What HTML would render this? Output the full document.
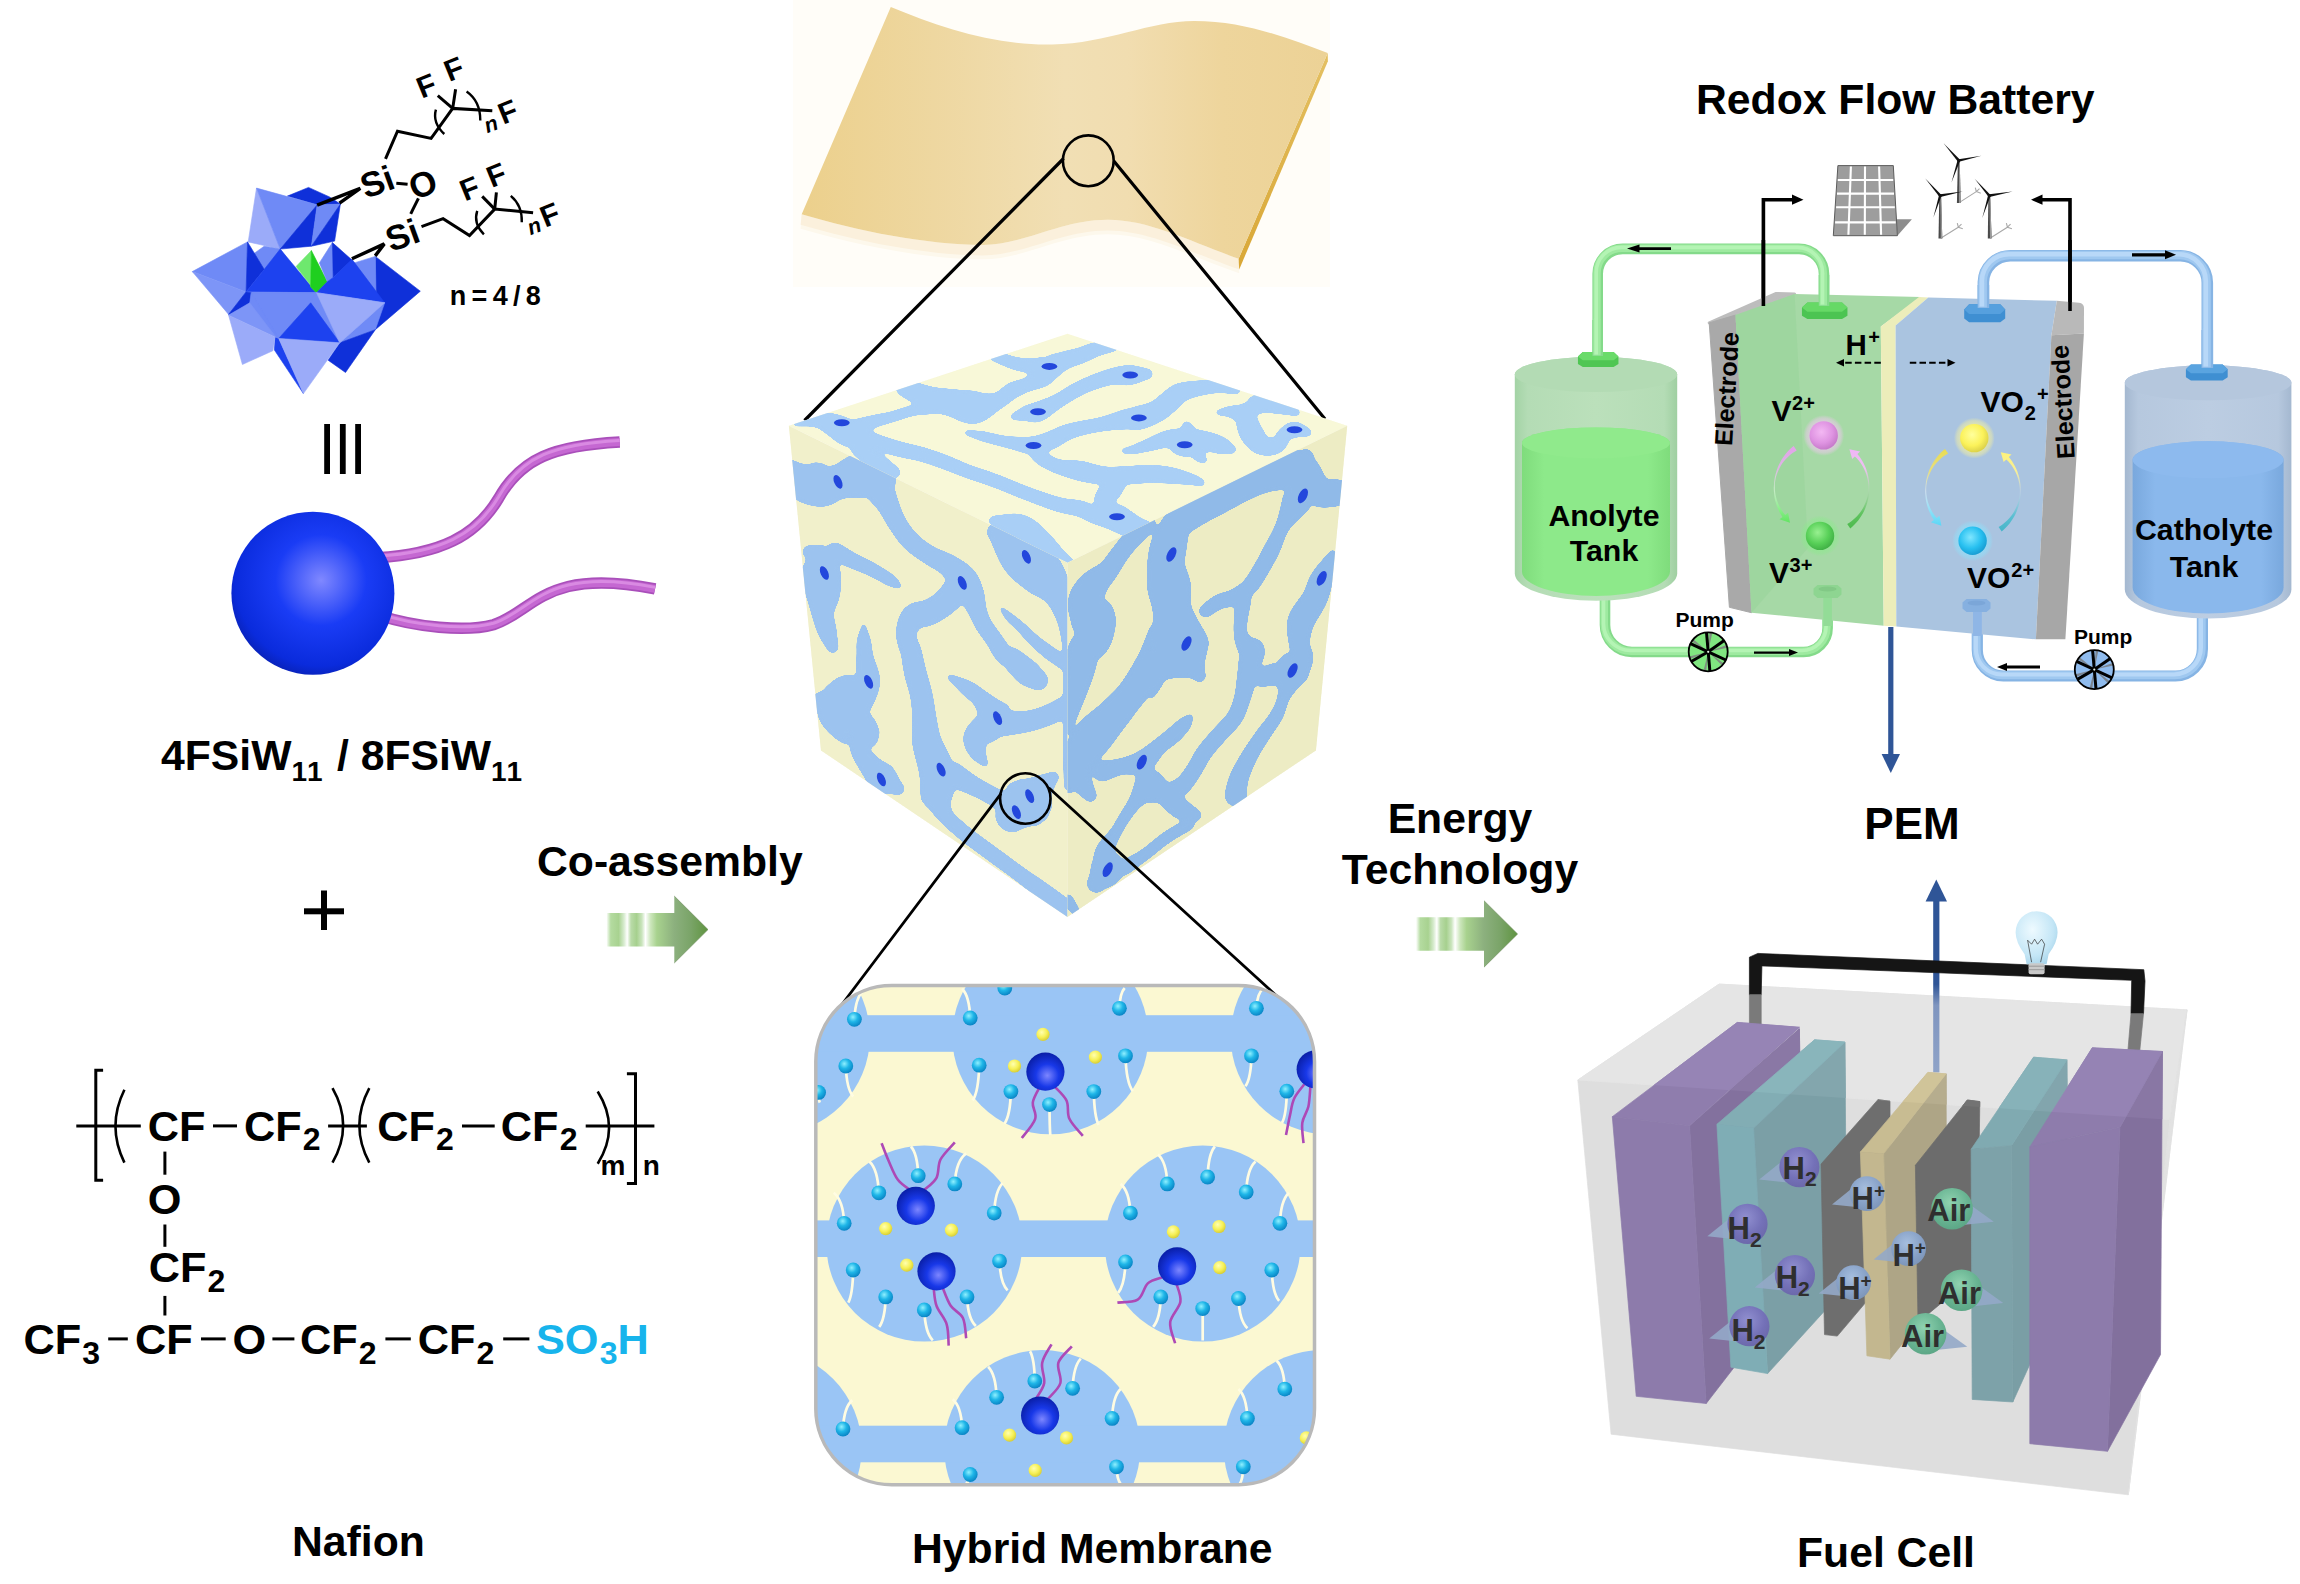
<!DOCTYPE html>
<html lang="en"><head><meta charset="utf-8"><title>Hybrid Membrane</title>
<style>
html,body{margin:0;padding:0;background:#fff;}
body{width:2300px;height:1584px;overflow:hidden;}
svg{display:block;}
text{font-family:"Liberation Sans",Arial,sans-serif;font-weight:bold;}
.lbl{font-size:41px;}
</style></head><body>
<svg width="2300" height="1584" viewBox="0 0 2300 1584">
<defs>
<radialGradient id="gSph" cx="0.55" cy="0.42" r="0.62">
 <stop offset="0" stop-color="#8088ff"/><stop offset="0.45" stop-color="#1a3cf5"/><stop offset="0.85" stop-color="#0a2bdc"/><stop offset="1" stop-color="#0820b0"/>
</radialGradient>
<linearGradient id="gArr" x1="0" x2="1" y1="0" y2="0">
 <stop offset="0" stop-color="#ffffff"/><stop offset="0.043" stop-color="#b4dba0"/><stop offset="0.12" stop-color="#a8d290"/><stop offset="0.174" stop-color="#d8ecd0"/><stop offset="0.205" stop-color="#ffffff"/><stop offset="0.242" stop-color="#b9dba8"/><stop offset="0.298" stop-color="#a6d08e"/><stop offset="0.348" stop-color="#c9e4bc"/><stop offset="0.385" stop-color="#ffffff"/><stop offset="0.435" stop-color="#cce6bc"/><stop offset="0.497" stop-color="#a8d28e"/><stop offset="0.668" stop-color="#8cb07e"/><stop offset="0.83" stop-color="#7aa468"/><stop offset="1" stop-color="#5f9440"/>
</linearGradient>
</defs>
<rect x="0" y="0" width="2300" height="1584" fill="#ffffff"/>

<g id="labels" font-size="42.7">
<text x="1696" y="114">Redox Flow Battery</text>
<text x="161" y="770">4FSiW<tspan font-size="28" dy="11" letter-spacing="1.5">11</tspan><tspan dy="-11" dx="1"> / 8FSiW</tspan><tspan font-size="28" dy="11" letter-spacing="1.5">11</tspan></text>
<text x="537" y="875.5">Co-assembly</text>
<text x="1460" y="833" text-anchor="middle">Energy</text>
<text x="1460" y="884" text-anchor="middle">Technology</text>
<text x="1912" y="838.5" text-anchor="middle" font-size="44">PEM</text>
<text x="292" y="1556">Nafion</text>
<text x="912" y="1563">Hybrid Membrane</text>
<text x="1797" y="1567">Fuel Cell</text>
</g>
<g id="plus" fill="#000">
<rect x="304" y="908.3" width="40" height="6"/><rect x="321" y="890.5" width="6" height="39.5"/>
</g>
<g id="bars" fill="#000">
<rect x="324.2" y="424" width="5.8" height="50"/><rect x="339.9" y="424" width="5.8" height="50"/><rect x="355.2" y="424" width="5.8" height="50"/>
</g>
<g id="arrows">
<path d="M606.4 913.1 H674.3 V896.1 L708 929.6 L674.3 963 V946.6 H606.4 Z" fill="url(#gArr)"/><path d="M674.3 896.1 L708 929.6 L674.3 963" fill="none" stroke="#6d8a5c" stroke-width="0.6"/>
<path d="M1416 917.2 H1484 V900.7 L1517.6 934 L1484 967.2 V950.7 H1416 Z" fill="url(#gArr)"/><path d="M1484 900.7 L1517.6 934 L1484 967.2" fill="none" stroke="#6d8a5c" stroke-width="0.6"/>
</g>

<g id="nafion" font-size="43.3" stroke-linecap="butt">
<line x1="76.3" y1="1125.9" x2="140.8" y2="1125.9" stroke="#000" stroke-width="3"/>
<text x="147.7" y="1140.6">CF</text>
<line x1="213.0" y1="1125.9" x2="237.0" y2="1125.9" stroke="#000" stroke-width="3"/>
<text x="243.9" y="1140.6">CF<tspan font-size="32" dy="9.8" dx="1.2">2</tspan></text>
<line x1="328.1" y1="1125.9" x2="366.9" y2="1125.9" stroke="#000" stroke-width="3"/>
<text x="377.2" y="1140.6">CF<tspan font-size="32" dy="9.8" dx="1.2">2</tspan></text>
<line x1="462.0" y1="1125.9" x2="494.7" y2="1125.9" stroke="#000" stroke-width="3"/>
<text x="500.8" y="1140.6">CF<tspan font-size="32" dy="9.8" dx="1.2">2</tspan></text>
<line x1="585.7" y1="1125.9" x2="654.4" y2="1125.9" stroke="#000" stroke-width="3"/>
<path d="M103.1 1070.2 H95.8 V1180.2 H103.1" fill="none" stroke="#000" stroke-width="3"/>
<path d="M626.9 1073.7 H635.5 V1183.6 H626.9" fill="none" stroke="#000" stroke-width="3"/>
<path d="M124.4 1089.8 Q106.5 1126.2 124.4 1162.6" fill="none" stroke="#000" stroke-width="2.6"/>
<path d="M332.5 1088.1 Q353.8 1125.4 332.5 1162.6" fill="none" stroke="#000" stroke-width="2.6"/>
<path d="M369.3 1088.1 Q349.4 1125.4 369.3 1162.6" fill="none" stroke="#000" stroke-width="2.6"/>
<path d="M597.7 1091.5 Q620.4 1127.6 597.7 1163.7" fill="none" stroke="#000" stroke-width="2.6"/>
<text x="600.5" y="1174.7" font-size="28">m</text>
<text x="642.7" y="1174.7" font-size="28">n</text>
<line x1="164.9" y1="1151.6" x2="164.9" y2="1174.7" stroke="#000" stroke-width="3"/>
<text x="147.7" y="1213.5">O</text>
<line x1="164.9" y1="1224.5" x2="164.9" y2="1246.8" stroke="#000" stroke-width="3"/>
<text x="148.7" y="1282.2">CF<tspan font-size="32" dy="9.8" dx="1.2">2</tspan></text>
<line x1="164.9" y1="1295.9" x2="164.9" y2="1315.5" stroke="#000" stroke-width="3"/>
<text x="23.4" y="1354.3">CF<tspan font-size="32" dy="9.8" dx="1.2">3</tspan></text>
<line x1="108.2" y1="1338.9" x2="127.8" y2="1338.9" stroke="#000" stroke-width="3"/>
<text x="135.0" y="1354.3">CF</text>
<line x1="201.0" y1="1338.9" x2="225.7" y2="1338.9" stroke="#000" stroke-width="3"/>
<text x="232.6" y="1354.3">O</text>
<line x1="272.4" y1="1338.9" x2="294.4" y2="1338.9" stroke="#000" stroke-width="3"/>
<text x="299.9" y="1354.3">CF<tspan font-size="32" dy="9.8" dx="1.2">2</tspan></text>
<line x1="385.4" y1="1338.9" x2="410.8" y2="1338.9" stroke="#000" stroke-width="3"/>
<text x="417.7" y="1354.3">CF<tspan font-size="32" dy="9.8" dx="1.2">2</tspan></text>
<line x1="503.2" y1="1338.9" x2="529.4" y2="1338.9" stroke="#000" stroke-width="3"/>
<text x="535.9" y="1354.3" fill="#17b4ec">SO<tspan font-size="32" dy="9.8" dx="1.2">3</tspan><tspan dy="-9.8">H</tspan></text>
</g>
<g id="pom">
<polygon fill="#0f30d9" stroke="#0f30d9" stroke-width="0.6" stroke-linejoin="round" points="287.4,196.1 308.5,187.4 329.5,196.9 340.4,204.1 317.2,204.8"/>
<polygon fill="#9babf9" stroke="#9babf9" stroke-width="0.6" stroke-linejoin="round" points="256.5,188.1 248.2,241.9 280.2,249.1"/>
<polygon fill="#6f8af6" stroke="#6f8af6" stroke-width="0.6" stroke-linejoin="round" points="256.5,188.1 317.2,204.8 280.2,249.1"/>
<polygon fill="#0f30d9" stroke="#0f30d9" stroke-width="0.6" stroke-linejoin="round" points="317.2,204.8 280.2,249.1 311.4,246.2"/>
<polygon fill="#6f8af6" stroke="#6f8af6" stroke-width="0.6" stroke-linejoin="round" points="317.2,204.8 340.4,204.1 311.4,246.2"/>
<polygon fill="#0f30d9" stroke="#0f30d9" stroke-width="0.6" stroke-linejoin="round" points="340.4,204.1 334.6,241.1 311.4,246.2"/>
<polygon fill="#6f8af6" stroke="#6f8af6" stroke-width="0.6" stroke-linejoin="round" points="254.0,253.5 264.2,246.2 280.2,249.1 290.3,262.9 264.2,270.2"/>
<polygon fill="#6f8af6" stroke="#6f8af6" stroke-width="0.6" stroke-linejoin="round" points="192.3,271.6 247.5,241.9 246.1,291.9"/>
<polygon fill="#7d95f7" stroke="#7d95f7" stroke-width="0.6" stroke-linejoin="round" points="192.3,271.6 246.1,291.9 228.6,314.4"/>
<polygon fill="#0f30d9" stroke="#0f30d9" stroke-width="0.6" stroke-linejoin="round" points="247.5,241.9 264.2,269.4 246.1,291.9"/>
<polygon fill="#1d42ef" stroke="#1d42ef" stroke-width="0.6" stroke-linejoin="round" points="280.2,249.1 316.5,292.7 246.1,291.9 264.2,269.4"/>
<polygon fill="#6ee86e" stroke="#6ee86e" stroke-width="0.6" stroke-linejoin="round" points="296.1,266.5 311.4,250.6 310.7,286.9 316.5,292.7"/>
<polygon fill="#1fcf1f" stroke="#1fcf1f" stroke-width="0.6" stroke-linejoin="round" points="311.4,250.6 327.3,281.8 316.5,292.7 310.7,286.9"/>
<polygon fill="#6f8af6" stroke="#6f8af6" stroke-width="0.6" stroke-linejoin="round" points="319.4,262.9 332.4,242.6 333.2,277.4 327.3,281.8"/>
<polygon fill="#0f30d9" stroke="#0f30d9" stroke-width="0.6" stroke-linejoin="round" points="332.4,242.6 352.0,260.0 333.2,277.4"/>
<polygon fill="#0f30d9" stroke="#0f30d9" stroke-width="0.6" stroke-linejoin="round" points="375.3,256.4 420.3,291.2 375.3,329.7"/>
<polygon fill="#6f8af6" stroke="#6f8af6" stroke-width="0.6" stroke-linejoin="round" points="354.2,262.9 375.3,256.4 376.0,293.4 368.7,286.1"/>
<polygon fill="#1d42ef" stroke="#1d42ef" stroke-width="0.6" stroke-linejoin="round" points="352.0,259.3 384.7,302.8 316.5,292.7 327.3,281.8 333.2,277.4"/>
<polygon fill="#6f8af6" stroke="#6f8af6" stroke-width="0.6" stroke-linejoin="round" points="384.7,302.8 375.3,329.7 339.7,342.8"/>
<polygon fill="#0f30d9" stroke="#0f30d9" stroke-width="0.6" stroke-linejoin="round" points="339.7,342.8 375.3,329.7 345.5,372.5 328.1,360.2"/>
<polygon fill="#6f8af6" stroke="#6f8af6" stroke-width="0.6" stroke-linejoin="round" points="246.1,291.9 316.5,292.7 384.7,302.8 339.7,342.8 278.7,338.4 228.6,314.4"/>
<polygon fill="#6f8af6" stroke="#6f8af6" stroke-width="0.6" stroke-linejoin="round" points="251.1,292.7 316.5,292.7 278.7,338.4"/>
<polygon fill="#6f8af6" stroke="#6f8af6" stroke-width="0.6" stroke-linejoin="round" points="316.5,292.7 339.7,342.8 310.7,302.8"/>
<polygon fill="#1d42ef" stroke="#1d42ef" stroke-width="0.6" stroke-linejoin="round" points="310.7,302.8 339.7,342.8 278.7,338.4"/>
<polygon fill="#9babf9" stroke="#9babf9" stroke-width="0.6" stroke-linejoin="round" points="316.5,292.7 384.7,302.8 339.7,342.8"/>
<polygon fill="#1d42ef" stroke="#1d42ef" stroke-width="0.6" stroke-linejoin="round" points="275.1,336.9 278.7,338.4 303.4,393.6 274.4,350.0"/>
<polygon fill="#9babf9" stroke="#9babf9" stroke-width="0.6" stroke-linejoin="round" points="278.7,338.4 339.7,342.8 303.4,393.6"/>
<polygon fill="#0f30d9" stroke="#0f30d9" stroke-width="0.6" stroke-linejoin="round" points="246.1,291.9 251.1,292.7 249.7,303.6 228.6,314.4"/>
<polygon fill="#6f8af6" stroke="#6f8af6" stroke-width="0.6" stroke-linejoin="round" points="251.1,292.7 278.7,338.4 275.1,336.9 249.7,303.6"/>
<polygon fill="#7d95f7" stroke="#7d95f7" stroke-width="0.6" stroke-linejoin="round" points="228.6,315.2 249.7,302.8 275.8,336.9"/>
<polygon fill="#9babf9" stroke="#9babf9" stroke-width="0.6" stroke-linejoin="round" points="228.6,315.2 275.1,336.9 272.9,350.7 242.4,364.5"/>
</g>
<g id="silane" stroke="#000" stroke-width="3" fill="none" stroke-linecap="butt" stroke-linejoin="miter">
<path d="M385.5 158.8 L397.5 131.2 L431.1 138.4 L452.7 108.4 L492.3 110.8"/>
<path d="M452.7 108.4 L437.8 95.7"/>
<path d="M452.7 108.4 L455.6 89.2"/>
<path d="M317.1 205.1 L360.3 188.3 L339.5 203.1" stroke-width="3.4"/>
<path d="M396.3 183.2 L407.6 184.2"/>
<path d="M418.4 198.3 L410.7 213.9"/>
<path d="M421.5 226.7 L443.1 218.7 L469.5 235.5 L494.7 209.1 L533.1 212.7"/>
<path d="M494.7 209.1 L482.2 196.4"/>
<path d="M494.7 209.1 L496.4 192.3"/>
<path d="M351.9 258.8 L384.3 243.9 L375.2 255.9" stroke-width="3.4"/>
<path d="M435.9 109.6 Q432.3 122.8 444.3 134.0" stroke-width="2.4"/>
<path d="M466.6 91.6 Q480.3 101.2 480.3 120.4" stroke-width="2.4"/>
<path d="M477.2 210.8 Q473.1 223.5 483.9 234.3" stroke-width="2.4"/>
<path d="M510.8 195.9 Q522.3 205.5 521.8 222.3" stroke-width="2.4"/>
</g>
<g id="silane-text" font-size="35">
<text transform="translate(377.1 181.5) rotate(-20)" text-anchor="middle" dominant-baseline="central">Si</text>
<text transform="translate(422.7 183.9) rotate(-20)" text-anchor="middle" dominant-baseline="central">O</text>
<text transform="translate(402.3 234.8) rotate(-20)" text-anchor="middle" dominant-baseline="central">Si</text>
<text transform="translate(426.3 85.6) rotate(-22)" text-anchor="middle" dominant-baseline="central" font-size="30">F</text>
<text transform="translate(453.9 68.8) rotate(-22)" text-anchor="middle" dominant-baseline="central" font-size="30">F</text>
<text transform="translate(507.9 111.5) rotate(-22)" text-anchor="middle" dominant-baseline="central" font-size="30">F</text>
<text transform="translate(469.5 188.3) rotate(-22)" text-anchor="middle" dominant-baseline="central" font-size="30">F</text>
<text transform="translate(496.4 174.8) rotate(-22)" text-anchor="middle" dominant-baseline="central" font-size="30">F</text>
<text transform="translate(549.9 214.7) rotate(-22)" text-anchor="middle" dominant-baseline="central" font-size="30">F</text>
<text transform="translate(491.1 124.4) rotate(-20)" text-anchor="middle" dominant-baseline="central" font-size="21.5" font-style="italic" font-weight="normal">n</text>
<text transform="translate(534.3 226.4) rotate(-20)" text-anchor="middle" dominant-baseline="central" font-size="21.5" font-style="italic" font-weight="normal">n</text>
<text x="449.8" y="305.1" font-size="27" textLength="91" lengthAdjust="spacing">n=4/8</text>
</g>
<defs><linearGradient id="gTail" x1="0" y1="0" x2="0" y2="1"><stop offset="0" stop-color="#d98be0"/><stop offset="1" stop-color="#a84cb8"/></linearGradient></defs>
<g id="tails" fill="none" stroke-linecap="butt">
<path d="M377.3 557.8 C440.4 554.0 475.8 536.4 498.5 498.5 521.2 458.1 554.0 445.5 619.7 441.9" stroke="#a94fba" stroke-width="11.5"/>
<path d="M377.3 557.8 C440.4 554.0 475.8 536.4 498.5 498.5 521.2 458.1 554.0 445.5 619.7 441.9" stroke="#c568d2" stroke-width="8"/>
<path d="M377.3 557.8 C440.4 554.0 475.8 536.4 498.5 498.5 521.2 458.1 554.0 445.5 619.7 441.9" stroke="#d98ae2" stroke-width="3" transform="translate(0,-1.5)"/>
<path d="M377.3 614.6 C415.2 627.3 465.7 632.3 493.4 624.7 533.8 612.1 543.9 566.7 655.1 588.9" stroke="#a94fba" stroke-width="11.5"/>
<path d="M377.3 614.6 C415.2 627.3 465.7 632.3 493.4 624.7 533.8 612.1 543.9 566.7 655.1 588.9" stroke="#c568d2" stroke-width="8"/>
<path d="M377.3 614.6 C415.2 627.3 465.7 632.3 493.4 624.7 533.8 612.1 543.9 566.7 655.1 588.9" stroke="#d98ae2" stroke-width="3" transform="translate(0,-1.5)"/>
</g>
<circle cx="312.9" cy="593.2" r="81.5" fill="url(#gSph)"/>
<g id="sheet">
<defs><linearGradient id="gSheet" x1="0" x2="1" y1="0" y2="0"><stop offset="0" stop-color="#ecd08c"/><stop offset="0.25" stop-color="#eed7a0"/><stop offset="0.5" stop-color="#f1dfb4"/><stop offset="0.62" stop-color="#f1ddb0"/><stop offset="0.8" stop-color="#eed59c"/><stop offset="1" stop-color="#ecd296"/></linearGradient><linearGradient id="gSide" x1="0" x2="0" y1="0" y2="1"><stop offset="0" stop-color="#e4c062"/><stop offset="1" stop-color="#d9a736"/></linearGradient></defs>
<rect x="793" y="0" width="537" height="287" fill="#fffdf8"/>
<path d="M801.7 214.3 C857.4 231.0 927.0 244.9 982.6 244.9 C1024.3 244.9 1060.5 219.8 1107.8 219.8 C1149.6 219.8 1191.3 242.1 1238.6 258.8 L1239.2 273.3 C1191.3 256.6 1149.6 234.3 1107.8 234.3 C1060.5 234.3 1024.3 259.3 982.6 259.3 C927.0 259.3 857.4 245.4 800.6 228.7 Z" fill="#fdf8ec"/>
<path d="M801.7 214.3 C857.4 231.0 927.0 244.9 982.6 244.9 C1024.3 244.9 1060.5 219.8 1107.8 219.8 C1149.6 219.8 1191.3 242.1 1238.6 258.8 L1239.2 269.4 C1191.3 252.7 1149.6 230.4 1107.8 230.4 C1060.5 230.4 1024.3 255.4 982.6 255.4 C927.0 255.4 857.4 241.5 800.6 224.8 Z" fill="#fbf0dc"/>
<polygon points="1327.7,52.9 1327.9,61.2 1239.2,269.4 1238.6,258.8" fill="url(#gSide)"/>
<path d="M890.8 7.0 C940.9 27.8 996.5 45.9 1052.2 44.5 C1107.8 43.1 1149.6 20.9 1194.1 20.9 C1247.0 20.9 1288.7 39.0 1327.7 52.9 L1238.6 258.8 C1191.3 242.1 1149.6 219.8 1107.8 219.8 C1060.5 219.8 1024.3 244.9 982.6 244.9 C927.0 244.9 857.4 231.0 801.7 214.3 Z" fill="url(#gSheet)"/>
<circle cx="1088.3" cy="160.8" r="25.4" fill="none" stroke="#000" stroke-width="2.6"/>
<path d="M1063.6 158.5 L804.5 420.5 M1113.8 161 L1325 419" stroke="#000" stroke-width="3.2" fill="none"/>
</g>
<g id="cube">
<defs><clipPath id="cT"><polygon points="1067.5,333.7 1347.3,425.7 1067.5,562.7 788.8,425.7"/></clipPath><clipPath id="cL"><polygon points="788.8,425.7 1067.5,562.7 1067.5,916.9 820.9,750.5"/></clipPath><clipPath id="cR"><polygon points="1067.5,562.7 1347.3,425.7 1316.0,750.5 1067.5,916.9"/></clipPath><filter id="goo" x="-5%" y="-5%" width="110%" height="110%" color-interpolation-filters="sRGB"><feGaussianBlur in="SourceGraphic" stdDeviation="2.2"/><feColorMatrix type="matrix" values="1 0 0 0 0  0 1 0 0 0  0 0 1 0 0  0 0 0 24 -11.5"/></filter></defs>
<g clip-path="url(#cT)">
<polygon points="1067.5,333.7 1347.3,425.7 1067.5,562.7 788.8,425.7" fill="#f8f8d8" stroke="#f8f8d8" stroke-width="0.8"/>
<g fill="#a9cff6" filter="url(#goo)" fill-rule="nonzero">
<path d="M794.5 426.5L796.5 426.5L799.4 426.5L802.7 426.4L806.3 426.4L809.9 426.6L813.0 426.9L815.5 427.4L818.2 428.4L820.2 429.6L822.1 431.0L824.1 432.6L826.5 434.3L828.5 435.8L830.8 437.6L833.4 439.7L836.3 441.8L839.5 443.9L842.8 445.6L846.5 447.0L850.1 448.0L853.6 448.7L857.0 449.2L860.4 449.7L864.2 450.0L867.3 449.9L870.1 449.8L873.7 450.1L876.3 450.7L879.3 451.5L882.5 452.5L886.0 453.5L889.6 454.6L893.1 455.6L896.6 456.5L900.1 457.3L903.5 458.0L906.8 458.7L910.0 459.3L913.2 459.9L916.3 460.6L919.4 461.4L922.5 462.3L925.6 463.2L928.8 464.3L931.9 465.3L935.1 466.5L938.3 467.6L941.5 468.8L944.2 469.7L946.9 470.7L949.5 471.7L952.2 472.8L955.0 473.9L958.0 475.0L961.1 476.2L964.4 477.4L967.2 478.4L970.1 479.4L973.1 480.5L976.2 481.5L979.3 482.6L982.4 483.6L985.5 484.7L988.6 485.8L991.7 486.9L994.7 488.0L997.6 489.1L1000.6 490.3L1003.6 491.5L1006.6 492.7L1009.6 494.0L1012.7 495.2L1015.7 496.5L1018.8 497.7L1021.9 498.9L1025.0 500.1L1028.1 501.3L1031.2 502.5L1034.3 503.7L1037.5 504.9L1040.7 506.1L1043.8 507.3L1046.9 508.4L1049.9 509.4L1052.9 510.4L1055.8 511.4L1059.7 512.5L1063.5 513.4L1067.0 514.2L1070.2 514.8L1073.1 515.5L1075.7 516.1L1077.8 516.8L1080.5 517.8L1082.8 519.0L1085.5 520.4L1088.9 522.1L1092.9 523.8L1096.5 525.1L1100.1 526.3L1103.8 527.6L1107.5 528.9L1110.8 530.0L1113.4 531.0L1115.3 531.6L1122.4 530.6L1128.0 526.2L1130.7 519.6L1129.7 512.5L1125.3 506.8L1118.7 504.1L1116.5 504.3L1113.6 504.6L1110.2 505.0L1106.7 505.4L1103.2 505.7L1100.0 505.9L1097.7 505.9L1095.0 505.5L1092.7 504.8L1090.0 503.5L1086.6 502.1L1082.5 500.8L1079.1 500.1L1075.9 499.6L1072.7 499.3L1069.6 498.9L1066.4 498.5L1063.1 497.9L1059.7 497.1L1057.2 496.4L1054.4 495.6L1051.5 494.7L1048.5 493.8L1045.5 492.7L1042.3 491.6L1039.2 490.5L1036.0 489.4L1032.9 488.3L1029.9 487.2L1026.9 486.0L1023.9 484.9L1020.9 483.7L1017.9 482.4L1014.9 481.2L1011.9 479.9L1008.8 478.7L1005.7 477.4L1002.7 476.2L999.6 475.0L996.4 473.9L993.2 472.7L990.1 471.6L986.9 470.6L983.7 469.5L980.6 468.4L977.6 467.4L974.7 466.4L971.9 465.4L969.2 464.4L966.1 463.2L963.2 462.0L960.4 460.8L957.7 459.6L955.0 458.4L952.3 457.2L949.5 456.0L946.7 454.9L943.4 453.7L940.1 452.5L936.8 451.3L933.4 450.2L930.1 449.2L926.7 448.1L923.4 447.1L919.9 446.2L916.5 445.3L913.2 444.5L910.0 443.7L906.8 443.0L903.7 442.2L900.6 441.3L897.5 440.4L894.1 439.4L890.7 438.3L887.3 437.3L884.0 436.2L880.9 435.1L878.1 434.1L874.3 432.6L871.4 431.2L869.4 430.0L867.2 428.5L865.0 427.1L862.6 425.4L860.1 423.7L857.3 422.0L854.5 420.5L852.0 419.4L849.0 418.2L845.7 416.9L842.0 415.6L838.2 414.5L834.4 413.6L830.5 413.1L826.9 412.9L823.1 413.1L819.2 413.6L815.2 414.4L811.8 415.4L808.3 416.7L804.7 418.1L801.3 419.6L798.2 420.9L795.6 422.1L793.7 422.9L792.9 423.3L792.3 424.1L792.3 425.1L792.7 425.9L793.5 426.5ZM853.3 454.4L854.9 455.9L857.0 457.9L859.6 460.3L862.4 462.8L865.3 465.4L868.3 467.8L871.2 469.7L874.1 471.4L877.3 472.9L880.6 474.3L883.7 475.5L886.6 476.5L889.1 477.3L890.8 478.0L894.1 478.9L897.3 478.0L899.7 475.7L900.6 472.4L899.7 469.2L897.3 466.8L895.9 465.6L893.9 463.9L891.6 461.9L889.0 459.8L886.2 457.6L883.4 455.6L880.7 453.9L877.7 452.4L874.3 450.8L870.7 449.4L867.2 448.0L863.9 446.8L861.1 445.8L859.1 445.0L856.4 444.2L853.6 444.8L851.5 446.8L850.7 449.5L851.3 452.3ZM1110.0 529.8L1111.8 530.7L1114.4 532.0L1117.7 533.6L1121.3 535.3L1125.2 536.9L1129.3 538.2L1134.0 539.0L1138.4 539.1L1142.3 538.8L1145.3 538.4L1147.4 538.2L1151.6 537.8L1155.1 535.2L1156.9 531.3L1156.4 527.0L1153.8 523.5L1149.9 521.8L1147.9 520.9L1145.1 519.8L1142.3 518.4L1139.7 517.0L1137.7 515.7L1136.1 514.5L1133.6 512.8L1130.9 510.9L1128.2 508.9L1125.8 507.2L1124.0 505.9L1117.0 504.0L1110.1 505.8L1105.0 510.9L1103.1 517.8L1104.9 524.7ZM860.4 434.8L862.4 434.0L865.1 432.7L868.3 431.2L871.6 429.7L874.9 428.3L877.7 427.1L880.6 426.1L883.2 425.2L885.9 424.4L889.0 423.5L892.6 422.5L895.5 421.5L898.7 420.5L902.0 419.4L905.3 418.3L908.6 417.3L911.9 416.4L914.9 415.7L918.0 415.2L921.2 414.9L924.5 414.7L927.9 414.5L931.3 414.3L934.7 414.0L938.1 413.5L942.5 412.7L946.7 411.8L950.5 410.8L953.4 410.1L955.5 409.6L959.2 406.6L960.9 402.1L960.1 397.4L957.1 393.7L952.6 392.0L947.9 392.8L946.0 394.1L943.6 395.8L940.9 397.8L938.0 399.6L934.9 401.0L932.7 401.7L929.9 402.2L926.7 402.7L923.4 403.1L919.8 403.6L916.2 404.2L912.6 404.9L909.1 405.8L905.5 406.8L902.0 407.9L898.6 409.0L895.3 410.1L892.3 411.0L889.6 411.8L886.2 412.6L883.3 413.1L880.5 413.5L877.5 414.0L874.1 414.7L870.8 415.4L867.2 416.3L863.5 417.1L860.0 417.9L857.1 418.6L855.0 419.1L851.5 421.5L849.6 425.4L849.9 429.7L852.2 433.2L856.1 435.1ZM900.9 396.0L902.6 397.0L904.9 398.4L907.8 400.2L911.0 402.1L914.5 404.2L918.1 406.2L921.7 408.0L925.3 409.6L929.1 411.1L932.9 412.2L936.5 413.2L939.9 414.0L943.1 414.7L946.1 415.5L948.9 416.3L951.5 417.4L954.3 418.7L957.4 420.3L961.0 421.8L965.1 423.1L969.8 423.9L974.8 423.9L979.7 422.9L984.0 421.1L987.9 418.8L991.5 416.3L994.8 413.7L997.8 411.3L1000.9 409.1L1004.3 406.8L1007.5 404.4L1010.3 402.2L1012.7 400.4L1014.6 399.0L1016.3 397.9L1018.6 396.5L1021.1 395.2L1023.9 393.9L1027.0 392.6L1030.3 391.3L1033.7 390.2L1037.3 389.2L1041.1 388.2L1044.9 386.9L1049.2 384.7L1054.1 380.8L1056.7 378.1L1058.1 376.9L1058.7 376.2L1060.7 374.5L1063.1 372.5L1065.8 370.5L1068.3 368.9L1070.8 367.7L1073.4 366.8L1076.3 365.8L1079.5 364.8L1082.9 363.6L1086.2 362.1L1089.3 360.7L1092.1 359.2L1094.7 358.0L1097.4 356.8L1100.1 355.8L1103.3 354.8L1106.7 353.7L1110.0 352.8L1112.8 352.0L1114.8 351.4L1117.4 350.1L1119.0 347.7L1119.2 344.9L1118.0 342.3L1115.6 340.7L1112.8 340.5L1110.7 340.6L1107.8 340.8L1104.3 341.1L1100.5 341.5L1096.8 342.0L1093.2 342.6L1089.4 343.6L1085.9 344.8L1082.8 346.0L1080.0 347.1L1077.4 347.9L1074.7 348.6L1071.9 349.2L1068.7 349.9L1065.2 350.7L1061.7 351.7L1058.0 352.7L1054.2 353.6L1050.4 354.7L1046.6 356.2L1042.2 358.8L1038.1 363.6L1036.7 367.2L1035.9 369.3L1035.2 370.3L1033.1 372.2L1030.4 374.2L1027.4 376.1L1024.5 377.7L1021.8 378.9L1018.9 379.8L1015.6 380.6L1012.0 381.7L1008.2 383.3L1005.0 385.4L1002.3 387.6L1000.1 389.6L997.9 391.3L995.8 392.6L993.4 393.3L990.7 393.5L987.5 393.4L984.3 393.0L981.1 392.5L978.2 391.8L975.8 391.1L973.9 390.6L972.5 390.4L970.7 390.4L968.3 390.3L965.4 390.2L962.1 390.0L958.4 389.6L954.5 389.2L950.8 388.8L947.3 388.5L944.1 388.2L941.1 387.9L938.2 387.6L935.4 387.2L932.6 386.7L930.0 386.1L926.8 385.3L923.3 384.2L919.8 383.0L916.4 381.9L913.3 380.8L910.6 379.9L908.5 379.2L903.8 378.4L899.3 380.0L896.3 383.7L895.5 388.5L897.2 392.9ZM972.4 417.8L975.0 418.8L977.6 419.8L980.0 421.5L982.8 421.8L985.4 420.7L987.1 418.4L987.5 415.5L986.3 412.9L985.9 410.1L985.4 407.4L982.0 404.8L977.7 404.4L973.7 406.1L971.2 409.5L970.7 413.8ZM992.1 360.9L994.0 361.8L996.8 363.0L1000.1 364.5L1003.6 366.1L1007.2 367.5L1010.4 368.8L1013.9 369.9L1017.1 370.8L1020.3 371.6L1023.4 372.3L1026.6 373.0L1030.1 373.6L1033.8 374.3L1037.4 374.8L1040.3 375.3L1042.3 375.6L1046.9 374.5L1050.4 371.2L1051.8 366.7L1050.7 362.0L1047.5 358.5L1042.9 357.1L1040.8 357.3L1037.9 357.6L1034.6 358.0L1031.3 358.2L1028.3 358.3L1025.5 358.1L1022.7 357.9L1020.0 357.5L1017.1 357.0L1014.1 356.4L1011.3 355.6L1007.9 354.6L1004.4 353.4L1001.1 352.3L998.2 351.3L996.1 350.6L993.3 350.3L990.6 351.4L988.9 353.7L988.6 356.6L989.8 359.2ZM1014.7 420.2L1017.4 420.5L1021.4 420.8L1025.6 421.2L1028.7 421.6L1031.4 422.3L1035.6 422.8L1041.3 421.5L1044.7 419.8L1047.6 418.0L1050.5 415.9L1053.4 413.6L1056.2 411.4L1058.9 409.4L1061.5 407.6L1064.8 405.4L1067.8 403.5L1070.7 401.7L1073.5 400.1L1076.2 398.5L1079.0 397.0L1081.7 395.5L1084.4 394.1L1087.2 392.7L1090.5 391.4L1093.3 390.4L1096.4 389.3L1099.7 388.2L1103.0 387.2L1106.3 386.3L1109.4 385.6L1112.2 385.1L1115.3 384.8L1118.3 384.9L1121.3 385.1L1124.4 385.4L1127.7 385.4L1130.9 385.1L1134.7 384.3L1138.6 383.0L1142.4 381.6L1145.6 380.3L1147.9 379.5L1150.6 378.6L1152.5 376.4L1153.1 373.6L1152.2 370.9L1150.1 369.0L1147.3 368.4L1144.9 367.8L1141.6 366.9L1137.6 365.9L1133.4 365.2L1129.4 364.9L1126.4 365.0L1123.3 365.4L1119.9 366.0L1116.3 366.8L1112.6 367.8L1108.7 368.8L1105.2 369.9L1101.6 371.1L1098.1 372.4L1094.5 373.8L1091.1 375.1L1087.9 376.4L1084.9 377.7L1081.2 379.3L1077.9 380.9L1074.8 382.5L1071.9 384.1L1068.9 385.7L1065.9 387.5L1063.0 389.4L1060.2 391.3L1057.3 393.1L1054.0 394.8L1051.3 396.1L1048.2 397.4L1044.9 398.6L1041.7 399.8L1038.7 400.9L1036.1 401.7L1034.8 402.2L1032.3 403.1L1030.3 403.7L1026.1 405.1L1022.2 407.1L1018.5 409.4L1015.2 411.6L1012.9 413.1L1011.2 414.0L1010.2 415.7L1010.2 417.6L1011.1 419.2L1012.8 420.2ZM966.2 435.4L968.2 436.2L971.0 437.3L974.3 438.6L977.7 439.9L980.8 441.0L983.7 441.9L986.7 442.8L989.7 443.6L992.8 444.4L995.9 445.3L998.8 446.0L1001.7 446.8L1004.6 447.6L1007.8 448.4L1011.2 449.3L1013.9 450.0L1016.8 451.0L1020.0 452.0L1023.3 453.0L1026.8 453.8L1030.4 454.5L1034.2 454.7L1038.8 454.3L1043.2 453.3L1047.0 452.0L1050.4 450.6L1053.7 449.1L1057.2 447.4L1060.6 445.5L1063.5 443.7L1066.1 442.0L1068.5 440.7L1070.9 439.6L1073.3 438.5L1075.8 437.6L1078.6 436.6L1081.9 435.7L1084.6 435.0L1087.5 434.3L1090.7 433.6L1094.1 432.9L1097.5 432.3L1100.9 431.7L1104.3 431.2L1107.7 430.8L1111.3 430.4L1114.8 430.1L1118.3 429.8L1121.6 429.7L1124.6 429.5L1127.1 429.5L1130.5 429.6L1133.4 430.0L1137.1 430.2L1141.5 429.6L1144.9 428.7L1148.1 427.6L1151.3 426.3L1154.6 424.9L1157.9 423.3L1161.1 421.6L1164.7 419.5L1167.9 417.2L1170.6 415.1L1172.9 413.1L1175.3 411.1L1178.2 408.3L1180.5 405.7L1182.1 403.9L1183.7 402.5L1185.1 401.5L1187.0 400.4L1189.2 399.3L1192.0 398.3L1195.3 397.3L1197.9 396.6L1200.9 395.8L1204.0 395.2L1207.3 394.5L1210.5 394.0L1213.5 393.6L1216.3 393.3L1219.7 393.2L1223.3 393.3L1227.0 393.5L1230.4 393.9L1233.5 394.2L1235.7 394.4L1238.1 394.2L1240.0 392.8L1241.1 390.7L1240.9 388.3L1239.5 386.3L1237.3 385.3L1235.3 384.7L1232.4 383.9L1228.9 382.8L1225.0 381.8L1220.8 380.9L1216.7 380.4L1213.1 380.1L1209.5 380.0L1205.9 380.1L1202.2 380.2L1198.7 380.4L1195.4 380.6L1192.3 380.9L1188.4 381.3L1184.7 381.7L1181.0 382.4L1177.4 383.3L1173.6 384.8L1169.3 387.3L1165.8 390.1L1163.2 392.4L1160.8 394.3L1158.6 396.1L1156.4 397.9L1154.5 399.6L1152.7 400.9L1150.7 402.0L1148.8 402.8L1146.3 403.6L1143.7 404.3L1141.0 405.0L1138.4 405.6L1136.3 406.1L1134.0 406.8L1131.9 407.4L1128.5 408.2L1124.1 409.3L1121.1 410.3L1118.0 411.3L1114.7 412.4L1111.4 413.6L1108.0 414.7L1104.7 415.8L1101.4 416.7L1098.2 417.5L1094.8 418.2L1091.4 418.9L1088.0 419.5L1084.6 420.1L1081.4 420.7L1078.4 421.3L1074.8 422.1L1071.6 422.8L1068.5 423.5L1065.4 424.3L1062.1 425.4L1058.5 426.8L1055.2 428.3L1052.1 429.7L1049.3 431.0L1046.6 432.1L1043.6 433.2L1040.6 434.2L1037.9 435.1L1035.5 435.7L1032.8 436.2L1030.9 436.5L1028.4 436.7L1025.5 436.8L1022.4 436.8L1019.3 436.8L1016.2 436.6L1013.3 436.5L1009.9 436.2L1006.9 435.9L1004.1 435.5L1001.3 435.0L998.4 434.4L995.4 433.8L992.4 433.1L989.4 432.4L986.3 431.7L983.1 431.1L979.7 430.7L976.1 430.5L972.6 430.3L969.5 430.1L967.4 430.0L966.0 430.1L964.8 430.9L964.1 432.1L964.2 433.6L965.0 434.8ZM1029.4 456.0L1031.1 458.1L1034.1 461.3L1038.1 464.7L1041.2 466.6L1044.2 468.3L1047.6 470.0L1051.4 471.7L1055.4 473.4L1058.6 474.6L1061.9 475.8L1065.2 477.0L1068.6 478.1L1071.9 479.1L1075.1 480.1L1078.1 480.9L1081.2 481.6L1084.3 482.2L1087.6 482.8L1091.1 483.4L1094.6 483.9L1098.3 484.3L1101.9 484.6L1105.6 484.9L1109.2 485.0L1112.7 485.0L1116.1 485.0L1119.4 484.9L1122.7 484.8L1126.0 484.7L1129.4 484.5L1132.9 484.3L1136.2 484.0L1139.4 483.7L1142.5 483.5L1145.5 483.3L1148.4 483.2L1151.4 483.1L1154.5 483.2L1157.6 483.2L1160.6 483.3L1163.7 483.4L1166.8 483.6L1169.9 483.7L1173.1 483.9L1176.6 484.1L1180.2 484.4L1183.7 484.6L1187.0 484.9L1190.0 485.2L1192.3 485.3L1197.7 485.9L1200.2 486.1L1202.1 486.4L1203.9 485.7L1205.1 484.2L1205.3 482.3L1204.6 480.5L1203.1 479.3L1200.6 477.4L1195.3 474.7L1192.7 473.7L1189.8 472.6L1186.5 471.4L1183.0 470.2L1179.4 469.1L1175.7 468.1L1172.2 467.2L1168.8 466.6L1165.4 466.0L1162.0 465.6L1158.6 465.2L1155.2 465.0L1151.8 464.8L1148.3 464.7L1144.7 464.7L1141.2 464.9L1137.8 465.2L1134.5 465.5L1131.3 465.8L1128.3 466.1L1125.2 466.2L1122.0 466.3L1118.8 466.5L1115.6 466.6L1112.6 466.7L1109.6 466.7L1106.7 466.5L1103.8 466.3L1101.0 465.8L1098.1 465.1L1095.2 464.3L1092.1 463.4L1088.9 462.5L1085.6 461.6L1082.2 460.9L1078.7 460.5L1075.1 460.3L1071.7 460.2L1068.4 460.1L1065.3 460.0L1062.5 459.7L1060.0 459.3L1056.8 458.4L1053.9 457.1L1051.3 455.6L1048.9 454.1L1047.0 452.9L1044.3 450.6L1042.2 448.3L1040.6 446.4L1037.5 444.2L1033.6 443.9L1030.2 445.6L1028.0 448.8L1027.7 452.6ZM1111.0 475.5L1108.6 477.4L1105.0 480.3L1102.0 483.5L1100.2 485.9L1097.9 489.3L1095.2 494.1L1093.6 501.3L1095.6 508.2L1098.6 512.8L1101.2 516.1L1103.2 518.9L1106.0 524.4L1108.0 528.4L1114.5 531.5L1121.6 530.9L1127.5 526.9L1130.6 520.4L1130.0 513.2L1126.0 507.3L1122.4 506.7L1117.7 504.7L1115.4 502.9L1113.0 500.8L1111.9 499.7L1112.1 501.2L1112.2 503.0L1113.6 502.4L1116.2 500.4L1119.0 497.7L1121.5 493.9L1123.6 490.2L1125.1 487.5L1127.1 483.2L1126.7 478.4L1124.0 474.5L1119.7 472.4L1114.9 472.8ZM1123.9 453.7L1126.2 454.0L1129.8 454.3L1134.1 454.2L1137.1 453.8L1140.2 453.3L1143.4 452.6L1146.7 452.0L1150.3 451.3L1153.7 450.6L1157.2 449.7L1160.6 448.8L1163.9 448.2L1166.7 448.0L1168.6 448.3L1170.3 449.4L1171.7 451.2L1174.1 453.4L1178.1 455.6L1183.2 456.8L1187.2 456.9L1190.6 456.5L1194.1 455.8L1197.4 455.0L1200.5 454.1L1203.3 453.2L1205.8 452.6L1207.6 452.2L1210.6 452.2L1213.2 452.6L1215.8 453.3L1218.6 454.0L1221.4 454.5L1226.9 454.3L1230.4 453.7L1232.8 453.9L1235.0 452.9L1236.3 451.0L1236.5 448.6L1235.5 446.4L1233.5 445.0L1231.1 442.3L1226.8 438.8L1224.7 437.6L1222.1 436.3L1218.8 434.8L1214.8 433.4L1210.3 432.0L1206.8 431.3L1203.3 430.5L1199.9 429.8L1196.5 429.1L1193.2 428.5L1190.2 427.9L1187.7 427.6L1186.2 427.4L1183.8 427.6L1181.2 428.0L1177.4 428.4L1172.5 428.9L1167.4 429.9L1163.1 431.2L1159.2 432.8L1155.6 434.5L1152.2 436.1L1149.1 437.7L1146.3 439.0L1143.1 440.4L1140.0 441.8L1137.1 443.1L1134.5 444.2L1132.2 445.2L1128.7 446.5L1125.6 447.5L1123.4 448.1L1122.1 448.6L1121.1 449.7L1120.9 451.1L1121.4 452.5L1122.5 453.4ZM1193.5 444.8L1194.0 442.4L1194.6 438.7L1195.2 434.7L1195.4 430.0L1193.1 425.1L1190.4 423.0L1188.6 421.4L1186.3 420.8L1184.0 421.6L1182.4 423.3L1181.9 425.7L1182.6 427.9L1181.9 428.8L1180.6 430.0L1179.7 430.9L1178.3 434.0L1176.9 437.2L1175.9 439.4L1175.7 444.2L1178.0 448.4L1182.0 451.0L1186.8 451.1L1191.0 448.9ZM1188.2 454.2L1190.3 456.1L1193.2 458.8L1196.3 461.2L1199.8 462.8L1202.1 463.2L1203.9 463.7L1205.8 463.2L1207.1 461.9L1207.6 460.0L1207.2 458.2L1205.8 456.8L1205.1 455.5L1204.0 453.3L1202.9 450.9L1201.2 447.6L1199.9 445.2L1196.9 442.9L1193.1 442.4L1189.6 443.8L1187.3 446.9L1186.8 450.7ZM1218.3 415.3L1220.9 415.7L1224.5 416.3L1228.1 417.1L1231.1 418.3L1233.6 419.6L1235.6 421.0L1236.3 422.3L1236.5 423.5L1236.0 423.8L1236.3 425.4L1236.9 428.1L1237.8 431.5L1239.1 435.3L1241.0 439.1L1243.3 442.5L1245.9 445.7L1249.0 448.8L1252.9 451.9L1257.6 454.3L1262.7 455.6L1267.5 455.9L1272.1 455.5L1276.5 454.4L1281.3 452.3L1285.7 448.2L1288.0 443.8L1289.2 441.0L1289.9 439.8L1291.9 438.7L1293.8 438.3L1295.4 438.0L1296.8 437.4L1300.1 437.0L1303.6 436.8L1306.2 436.7L1308.6 436.7L1310.7 435.5L1311.9 433.5L1311.9 431.1L1310.7 429.0L1308.6 427.8L1306.5 426.4L1303.2 424.3L1298.9 422.3L1293.7 421.4L1288.1 422.8L1283.5 425.7L1279.5 429.3L1276.5 433.1L1274.5 436.5L1273.3 438.0L1272.9 438.0L1272.5 437.6L1270.7 437.5L1268.6 437.2L1267.0 436.6L1266.3 436.0L1266.1 435.3L1265.5 434.0L1264.4 431.9L1263.1 429.4L1261.7 427.0L1260.8 425.4L1259.8 423.2L1258.4 420.3L1256.7 416.9L1254.5 413.2L1251.0 409.2L1245.9 406.2L1240.6 405.0L1236.3 405.0L1232.3 405.4L1228.0 406.2L1223.7 407.5L1220.1 408.9L1217.7 409.8L1216.4 410.3L1215.5 411.4L1215.3 412.9L1215.8 414.2L1216.9 415.1ZM1246.8 419.6L1248.9 418.7L1251.6 417.4L1254.6 416.0L1257.7 414.7L1260.5 413.7L1262.7 413.1L1264.7 412.9L1267.1 412.8L1269.8 413.0L1272.7 413.4L1275.9 413.8L1279.0 414.2L1282.8 414.6L1286.7 415.0L1290.4 415.5L1293.7 415.9L1296.0 416.2L1297.9 416.1L1299.5 415.1L1300.4 413.4L1300.4 411.5L1299.4 409.9L1297.7 409.0L1295.5 408.2L1292.4 407.1L1288.8 405.8L1284.9 404.5L1281.3 403.4L1278.6 402.4L1275.7 401.4L1272.5 400.3L1269.1 399.3L1265.4 398.6L1261.3 398.4L1257.0 398.9L1252.8 399.9L1248.9 401.2L1245.4 402.4L1242.7 403.4L1240.8 404.1L1237.3 406.6L1235.6 410.5L1236.0 414.8L1238.6 418.3L1242.5 420.0ZM1256.9 409.8L1259.1 409.1L1261.9 408.2L1265.2 407.1L1268.6 406.1L1272.0 405.1L1275.2 404.4L1277.7 404.1L1280.2 404.0L1283.4 404.2L1286.9 404.6L1290.4 405.1L1293.7 405.7L1296.6 406.2L1298.8 406.6L1301.7 406.5L1304.2 405.0L1305.5 402.5L1305.5 399.7L1304.0 397.2L1301.5 395.8L1299.6 395.2L1296.9 394.2L1293.6 392.9L1289.8 391.6L1285.8 390.5L1281.5 389.6L1277.2 389.3L1272.8 389.6L1268.5 390.5L1264.4 391.6L1260.5 392.9L1257.1 394.1L1254.4 395.1L1252.5 395.7L1249.3 397.7L1247.5 401.1L1247.6 404.9L1249.7 408.2L1253.1 409.9ZM993.0 526.3L995.0 527.4L997.7 528.7L1000.7 530.3L1004.0 532.1L1007.2 533.9L1010.2 535.7L1012.7 537.4L1014.5 538.7L1015.9 539.9L1017.5 541.3L1019.3 542.7L1021.4 544.4L1023.6 546.2L1026.0 548.1L1028.6 550.2L1031.3 552.1L1034.3 554.1L1037.3 555.9L1040.4 557.8L1043.5 559.6L1046.5 561.4L1049.4 563.0L1052.1 564.6L1056.1 566.8L1059.5 568.6L1062.3 570.0L1064.2 570.9L1067.8 572.2L1071.5 571.5L1074.4 569.0L1075.7 565.4L1075.0 561.7L1072.5 558.7L1070.9 557.3L1068.8 555.4L1066.3 552.9L1063.4 550.0L1061.7 548.0L1059.7 545.6L1057.6 543.0L1055.3 540.2L1052.8 537.4L1050.3 534.6L1047.8 532.1L1045.8 530.2L1043.7 528.1L1041.5 525.9L1039.0 523.6L1036.1 521.2L1032.9 519.0L1029.3 516.9L1025.2 515.2L1020.8 514.1L1016.2 513.6L1011.8 513.6L1007.5 513.9L1003.5 514.4L1000.0 514.8L997.2 515.2L995.2 515.5L992.3 515.7L989.9 517.2L988.7 519.8L988.8 522.7L990.4 525.1Z"/>
</g>
<ellipse cx="841.8" cy="422.7" rx="7.9" ry="3.5" transform="rotate(0 841.8 422.7)" fill="#2347dc"/>
<ellipse cx="1049.4" cy="366.4" rx="7.9" ry="3.5" transform="rotate(0 1049.4 366.4)" fill="#2347dc"/>
<ellipse cx="1038.0" cy="411.8" rx="7.9" ry="3.5" transform="rotate(0 1038.0 411.8)" fill="#2347dc"/>
<ellipse cx="1033.5" cy="445.5" rx="7.9" ry="3.5" transform="rotate(0 1033.5 445.5)" fill="#2347dc"/>
<ellipse cx="1130.2" cy="375.0" rx="7.9" ry="3.5" transform="rotate(0 1130.2 375.0)" fill="#2347dc"/>
<ellipse cx="1138.9" cy="417.9" rx="7.9" ry="3.5" transform="rotate(0 1138.9 417.9)" fill="#2347dc"/>
<ellipse cx="1184.7" cy="444.8" rx="7.9" ry="3.5" transform="rotate(0 1184.7 444.8)" fill="#2347dc"/>
<ellipse cx="1294.5" cy="429.7" rx="7.9" ry="3.5" transform="rotate(0 1294.5 429.7)" fill="#2347dc"/>
<ellipse cx="1117.0" cy="516.7" rx="7.9" ry="3.5" transform="rotate(0 1117.0 516.7)" fill="#2347dc"/>
</g>
<g clip-path="url(#cL)">
<polygon points="788.8,425.7 1067.5,562.7 1067.5,916.9 820.9,750.5" fill="#f1f0cb" stroke="#f1f0cb" stroke-width="0.8"/>
<g fill="#9cc3ef" filter="url(#goo)" fill-rule="nonzero">
<path d="M783.6 477.4L784.0 479.8L784.7 483.5L786.2 488.3L789.3 493.7L794.0 498.4L799.0 501.4L803.5 503.5L808.1 505.0L812.7 506.1L817.3 506.7L822.3 506.9L827.9 506.1L833.0 504.2L836.7 502.0L839.4 500.2L842.6 498.9L846.0 498.3L849.9 497.9L853.5 497.8L856.9 497.8L859.6 498.1L861.3 498.5L861.2 498.7L861.4 498.4L862.8 497.8L865.1 497.4L868.0 497.1L871.1 497.1L873.6 497.2L882.6 497.6L890.6 493.5L895.5 485.9L896.0 476.9L891.8 468.9L884.3 464.0L882.9 462.9L880.8 461.0L877.4 458.5L872.9 456.1L867.1 454.1L860.3 453.4L854.1 454.3L849.1 456.1L845.0 458.3L841.4 460.6L838.4 462.7L835.8 464.3L833.5 465.3L829.8 465.9L826.6 465.8L824.8 465.0L824.3 464.0L823.5 463.4L822.2 463.1L820.0 462.8L817.6 462.5L815.2 462.2L813.2 462.2L812.4 462.8L810.9 463.7L808.2 464.2L804.7 464.0L801.2 463.3L798.5 462.6L793.8 459.9L788.4 459.9L783.7 462.6L781.0 467.3L781.0 472.7ZM865.2 474.8L867.6 476.0L871.2 477.8L874.8 479.6L877.3 480.9L882.6 482.0L887.7 480.2L891.3 476.2L892.4 470.9L890.7 465.8L886.6 462.2L884.2 460.9L880.6 459.1L877.0 457.3L874.5 456.1L869.2 455.0L864.1 456.7L860.5 460.8L859.4 466.1L861.1 471.2ZM865.2 495.7L866.6 497.3L868.6 499.4L871.0 501.9L873.5 504.7L875.9 507.4L878.0 510.0L879.7 512.5L881.4 515.2L883.1 518.2L884.9 521.3L886.8 524.7L888.9 528.0L890.8 530.8L892.7 533.6L894.7 536.5L896.8 539.5L899.0 542.4L901.4 545.2L904.0 548.0L906.7 550.6L909.6 552.9L912.4 555.1L915.3 557.2L918.2 559.2L921.0 561.1L923.9 563.0L927.0 565.0L930.2 566.9L933.2 568.6L936.0 570.2L938.4 571.7L940.5 573.2L942.0 574.7L943.8 576.7L945.3 578.9L946.6 581.3L947.9 583.6L949.2 586.0L950.6 588.1L952.3 590.5L954.0 592.7L955.8 594.9L957.7 597.3L959.5 599.7L961.2 602.1L963.0 604.8L964.8 607.8L966.7 611.1L968.5 614.3L970.3 617.9L972.0 621.3L973.8 625.0L975.9 628.9L977.8 631.7L979.7 634.5L981.6 637.2L983.6 639.8L985.3 642.3L986.9 644.6L988.5 647.3L990.2 650.3L991.9 653.5L993.9 656.7L996.5 660.3L1000.6 664.1L1003.5 666.2L1005.7 668.3L1006.8 669.7L1008.9 672.2L1011.3 674.9L1013.8 677.8L1016.4 680.5L1019.2 682.9L1023.1 685.4L1026.9 687.1L1030.1 688.2L1032.2 689.0L1037.3 690.7L1042.6 689.7L1046.7 686.2L1048.5 681.1L1047.4 675.7L1043.9 671.6L1042.4 669.9L1040.4 667.6L1038.2 665.1L1035.7 662.6L1033.7 661.0L1031.2 658.9L1028.2 656.7L1025.2 654.4L1022.2 652.2L1018.9 649.9L1014.1 647.6L1011.4 647.0L1009.8 646.4L1008.9 645.6L1007.3 643.6L1005.5 640.9L1003.5 637.9L1001.3 634.8L999.4 632.2L997.4 629.6L995.6 627.1L993.8 624.6L992.3 622.3L991.1 620.2L989.5 617.2L988.4 614.3L987.3 611.1L986.4 607.5L985.8 604.4L985.5 601.0L985.0 597.1L984.3 593.0L983.2 588.8L981.9 584.9L980.5 581.1L978.8 577.3L976.6 573.5L974.0 570.0L971.5 567.4L968.7 565.0L965.6 562.7L962.3 560.5L958.9 558.4L955.2 556.3L951.8 554.4L948.4 552.9L945.1 551.5L942.0 550.3L939.1 549.2L936.4 548.0L934.0 546.7L931.4 545.1L928.8 543.5L926.3 541.7L923.9 539.9L921.6 538.1L919.5 536.3L917.5 534.4L915.7 532.5L913.8 530.3L911.9 528.0L910.1 525.6L908.4 523.1L906.8 520.5L905.3 518.1L903.9 515.3L902.7 512.5L901.5 509.5L900.4 506.4L899.3 503.1L898.1 499.7L896.9 496.1L895.9 492.5L894.8 488.8L893.9 485.4L893.2 482.6L892.7 480.6L887.1 474.8L879.3 472.5L871.4 474.4L865.5 480.1L863.3 487.9ZM951.0 573.3L949.7 575.0L948.1 577.3L946.3 579.9L944.3 582.7L942.3 585.5L940.3 588.2L938.4 590.4L936.9 592.0L934.8 593.9L932.7 595.5L930.4 597.0L928.1 598.3L925.7 599.5L924.0 600.3L922.3 600.9L920.1 601.2L916.4 601.7L911.2 603.3L905.5 606.9L901.6 611.6L899.2 616.3L897.6 621.1L896.5 625.9L895.8 630.9L895.9 636.2L896.7 641.0L897.7 645.0L898.6 648.1L899.6 651.4L900.8 653.2L900.8 653.3L900.9 654.3L901.3 657.0L901.8 660.3L902.3 664.0L902.9 667.8L903.6 671.6L904.3 675.3L905.1 678.9L906.1 682.3L907.1 685.6L908.0 688.8L908.9 691.9L909.7 694.8L910.3 697.7L910.7 700.6L911.1 703.6L911.5 706.7L911.7 709.8L911.9 713.0L912.1 716.3L912.3 719.5L912.3 722.4L912.1 725.4L911.9 728.6L911.7 732.1L911.7 735.8L911.8 739.9L912.2 744.1L912.9 748.1L913.7 752.0L914.7 755.7L915.6 759.3L916.5 762.7L917.3 765.7L917.9 768.2L918.4 770.3L919.1 774.2L919.5 776.7L919.6 778.1L919.8 779.6L919.9 781.0L920.1 783.5L920.1 786.5L920.1 789.5L920.1 791.7L921.2 800.2L926.4 807.1L934.3 810.3L942.8 809.2L949.6 804.0L952.9 796.1L953.5 794.2L954.3 791.3L955.3 787.4L956.1 782.9L956.3 778.0L955.8 772.9L954.8 768.4L953.4 764.3L951.6 760.0L950.4 757.0L949.0 753.9L947.5 750.9L946.0 747.9L944.5 745.0L943.2 742.2L942.0 739.8L941.1 737.7L940.3 735.3L939.5 732.8L938.9 730.0L938.3 727.1L937.7 723.8L937.1 720.4L936.5 716.9L935.9 713.6L935.4 710.4L934.9 707.1L934.4 703.7L933.8 700.3L933.2 696.8L932.5 693.2L931.6 689.6L930.7 686.0L929.8 682.6L928.8 679.3L927.9 676.1L927.1 673.1L926.3 670.1L925.5 667.0L924.7 663.5L923.9 659.9L923.0 656.3L922.3 653.0L921.6 650.1L920.7 646.7L919.0 643.1L918.8 643.1L918.5 641.9L917.5 639.2L916.8 636.6L916.4 634.5L916.6 633.4L917.4 631.9L918.7 630.0L920.2 628.2L921.7 627.1L922.1 627.1L921.4 627.7L922.0 627.6L924.7 627.2L929.1 626.2L933.9 624.5L937.6 622.7L940.7 621.0L944.0 619.1L947.3 616.8L950.8 614.4L954.3 611.6L957.2 609.0L960.1 606.3L962.9 603.5L965.6 600.7L968.2 598.0L970.5 595.6L972.3 593.8L973.6 592.5L976.8 585.5L976.2 577.9L971.8 571.6L964.9 568.3L957.3 568.9ZM999.6 609.0L1000.6 611.0L1002.1 613.8L1004.0 617.0L1006.2 620.1L1008.3 622.4L1010.6 624.6L1013.0 626.8L1015.4 629.0L1017.8 631.4L1019.7 633.5L1021.8 635.8L1023.9 638.2L1026.2 640.7L1028.5 643.3L1030.9 645.7L1033.4 648.1L1035.9 650.4L1038.4 652.6L1040.9 654.8L1043.5 656.9L1046.0 659.0L1048.8 661.0L1051.8 663.1L1054.8 665.1L1057.5 666.9L1059.8 668.4L1061.4 669.4L1064.9 670.6L1068.4 669.9L1071.1 667.5L1072.3 664.1L1071.6 660.5L1069.2 657.8L1067.5 656.7L1065.2 655.2L1062.6 653.4L1059.7 651.5L1056.9 649.5L1054.3 647.7L1051.7 645.9L1049.2 644.1L1046.6 642.3L1044.0 640.5L1041.5 638.6L1039.1 636.7L1036.8 634.7L1034.4 632.6L1032.1 630.4L1029.7 628.1L1027.3 625.9L1024.9 623.8L1022.1 621.4L1019.4 619.3L1016.9 617.3L1014.5 615.5L1012.3 613.8L1009.4 611.8L1006.6 609.8L1004.0 608.0L1002.2 606.7L1001.5 606.2L1000.6 606.2L999.8 606.6L999.3 607.3L999.2 608.2ZM990.0 539.8L990.8 541.6L991.8 544.0L993.0 546.9L994.3 550.1L995.8 553.5L997.3 557.0L999.0 560.6L1000.7 564.0L1002.6 567.1L1004.4 569.9L1006.5 572.6L1008.7 575.1L1011.0 577.5L1013.3 579.7L1015.6 581.8L1017.9 583.7L1020.1 585.5L1022.2 587.1L1024.2 588.6L1026.0 590.0L1028.6 591.9L1031.2 593.5L1033.7 594.9L1036.1 596.1L1038.5 597.3L1040.7 598.5L1042.8 599.8L1044.6 601.1L1046.6 603.0L1048.4 605.2L1050.1 607.6L1051.7 610.3L1053.3 613.2L1054.7 616.2L1056.0 619.2L1057.1 622.2L1058.1 625.1L1058.9 628.1L1059.6 631.0L1060.2 634.1L1060.8 637.2L1061.3 640.5L1061.7 643.0L1062.0 645.2L1062.2 647.2L1062.4 649.3L1062.6 651.9L1062.7 655.2L1062.8 659.6L1062.9 665.2L1062.9 667.3L1062.9 669.6L1062.9 672.1L1063.0 674.8L1063.0 677.6L1063.0 680.5L1063.0 683.6L1063.0 686.7L1063.0 690.0L1062.9 693.3L1062.9 696.7L1062.9 700.1L1062.9 703.5L1062.9 706.9L1062.9 710.4L1062.9 713.8L1062.9 717.1L1062.9 720.5L1062.8 723.7L1062.8 726.9L1062.8 729.9L1062.8 732.9L1062.9 735.7L1062.9 738.4L1062.9 740.9L1062.9 744.9L1063.0 748.8L1063.0 752.6L1063.1 756.3L1063.2 759.9L1063.3 763.3L1063.3 766.7L1063.4 769.8L1063.5 772.8L1063.6 775.6L1063.6 778.2L1063.7 780.5L1063.8 782.7L1063.8 784.6L1063.9 786.3L1064.5 788.9L1066.4 790.8L1069.0 791.6L1071.6 790.9L1073.6 789.1L1074.3 786.5L1074.4 784.8L1074.5 782.9L1074.7 780.8L1074.9 778.4L1075.1 775.8L1075.3 773.0L1075.5 770.1L1075.7 766.9L1075.9 763.6L1076.1 760.1L1076.3 756.5L1076.4 752.8L1076.6 748.9L1076.7 745.0L1076.8 741.0L1076.9 738.4L1076.9 735.8L1076.9 732.9L1077.0 730.0L1077.0 726.9L1077.0 723.7L1077.0 720.5L1077.0 717.2L1077.0 713.8L1077.0 710.4L1077.0 706.9L1077.0 703.5L1077.0 700.1L1076.9 696.7L1076.9 693.3L1076.9 690.0L1076.9 686.7L1076.9 683.6L1076.9 680.5L1076.9 677.5L1076.8 674.7L1076.8 672.1L1076.8 669.6L1076.8 667.2L1076.8 665.1L1076.8 659.5L1076.9 655.1L1076.9 651.7L1077.0 648.9L1077.0 646.5L1077.0 644.2L1077.0 641.8L1076.9 638.9L1076.7 635.4L1076.4 631.9L1076.1 628.5L1075.8 625.1L1075.4 621.6L1075.0 618.2L1074.6 614.7L1074.3 611.2L1074.0 607.6L1073.7 603.9L1073.3 599.9L1072.7 595.9L1071.9 591.6L1070.8 587.3L1069.7 583.5L1068.6 579.8L1067.4 576.1L1066.0 572.5L1064.6 568.9L1063.0 565.5L1061.2 562.3L1059.1 559.1L1057.1 556.4L1054.8 553.7L1052.5 551.1L1050.1 548.7L1047.7 546.3L1045.3 544.1L1042.8 542.0L1040.3 540.1L1037.8 538.4L1035.3 536.7L1032.4 535.1L1029.1 533.5L1025.6 532.0L1022.0 530.6L1018.4 529.3L1014.8 528.1L1011.5 527.0L1008.6 526.0L1006.1 525.2L1004.3 524.5L999.5 521.9L994.1 522.1L989.5 525.0L986.9 529.8L987.1 535.2ZM806.3 558.1L805.2 561.9L803.1 566.2L801.4 566.0L801.5 568.6L801.9 571.4L802.2 574.3L802.6 577.0L802.8 578.5L803.1 580.6L803.4 583.1L803.8 585.8L804.3 588.8L804.8 591.8L805.5 594.6L806.3 597.5L807.3 600.5L808.3 603.8L809.4 607.4L810.5 611.3L811.6 615.2L812.7 619.0L813.8 622.6L814.9 626.0L816.0 629.2L817.1 632.1L818.3 635.0L820.0 638.4L822.1 641.8L824.1 645.0L825.8 647.5L827.0 649.4L828.8 651.9L831.7 653.3L834.8 653.0L837.4 651.2L838.7 648.3L838.5 645.2L838.2 643.0L837.8 639.9L837.4 636.4L837.0 632.8L836.6 629.3L836.1 626.4L835.4 623.5L834.8 620.6L834.2 617.8L834.0 615.1L834.1 612.6L834.8 610.2L835.8 607.7L837.1 604.8L838.4 601.5L839.5 597.8L840.3 593.9L840.7 590.7L841.1 587.5L841.3 584.2L841.4 580.7L841.3 577.0L840.9 573.2L840.1 569.1L838.6 564.2L836.7 559.5L834.4 555.3L831.8 551.7L827.5 546.5L818.6 544.2L812.2 545.5L808.6 544.9L805.2 546.1L802.9 548.9L802.3 552.4L803.5 555.8ZM830.7 560.4L832.7 561.2L835.5 562.3L838.9 563.6L842.6 565.1L846.3 566.6L849.8 568.0L852.7 569.2L855.7 570.3L858.6 571.5L861.5 572.7L864.3 573.8L867.0 575.0L869.7 576.2L872.4 577.5L875.1 579.0L877.9 580.5L880.7 582.0L883.3 583.5L885.7 584.8L887.8 585.7L891.7 587.2L894.7 587.9L896.8 588.4L898.3 589.0L899.9 588.8L901.1 587.8L901.8 586.3L901.5 584.7L900.5 583.4L899.4 581.5L897.6 578.7L894.4 575.5L892.3 574.0L890.1 572.4L887.5 570.7L884.7 568.9L881.8 567.2L878.9 565.5L876.1 563.8L873.2 562.3L870.3 560.8L867.5 559.3L864.6 558.0L861.8 556.6L859.1 555.2L856.6 553.8L853.4 552.0L850.1 550.0L846.8 548.0L843.8 546.1L841.2 544.4L839.3 543.3L834.5 542.3L829.7 543.8L826.4 547.5L825.4 552.4L827.0 557.1ZM862.4 623.8L861.6 625.9L860.3 628.9L859.0 632.4L857.7 636.2L856.8 639.9L856.4 643.5L856.4 647.0L856.5 650.6L856.5 654.3L856.3 658.4L856.2 662.0L856.2 665.6L856.2 669.1L856.0 672.2L855.4 674.7L854.5 676.2L853.6 676.0L852.1 675.5L850.3 675.0L847.8 674.7L844.6 675.1L840.9 676.2L838.1 677.4L836.8 678.0L834.9 679.3L831.7 681.8L827.2 685.6L821.3 692.2L816.4 705.0L818.3 718.0L822.4 725.5L826.3 730.3L829.7 733.8L832.5 736.3L835.2 738.5L839.0 741.3L843.2 743.5L846.4 744.7L848.4 744.9L848.9 743.8L847.5 738.0L849.5 733.6L850.7 735.1L849.6 741.3L849.7 749.0L851.5 754.8L853.4 758.7L855.3 762.4L857.3 765.9L859.2 769.2L861.1 772.3L863.0 775.5L864.9 778.8L866.8 782.1L868.9 785.2L871.3 787.9L874.2 790.3L878.4 792.3L883.1 793.5L887.7 794.1L891.5 794.3L894.1 794.5L897.5 795.6L901.0 794.8L903.7 792.4L904.8 789.0L904.1 785.5L901.7 782.8L900.3 780.4L898.6 777.1L896.6 773.4L894.7 770.0L892.8 767.3L891.0 765.6L888.6 764.1L886.0 762.7L883.4 761.3L880.9 759.8L878.6 758.0L876.2 755.8L873.7 753.5L871.5 751.3L869.7 749.2L868.7 747.5L868.8 747.9L869.9 748.3L872.7 747.6L877.6 742.6L880.0 731.7L876.2 721.7L872.7 716.7L869.6 713.1L867.3 710.4L866.1 708.5L865.1 706.9L863.0 704.4L860.3 701.8L858.3 700.0L857.6 699.5L858.7 701.9L859.7 710.1L856.7 718.6L855.0 721.3L856.3 721.2L859.5 719.9L864.1 717.2L868.3 713.5L870.5 710.2L872.2 706.7L874.4 702.3L876.7 697.1L878.8 691.1L880.1 684.6L880.2 678.7L879.4 673.7L878.2 669.4L876.9 665.6L875.6 662.2L874.5 659.3L873.7 656.8L872.9 653.0L872.3 649.4L871.9 645.9L871.4 642.7L870.8 639.5L869.7 636.1L868.4 632.4L867.1 628.9L866.0 625.9L865.2 623.8L865.0 623.1L864.5 622.6L863.8 622.4L863.1 622.6L862.6 623.1ZM813.8 704.3L814.7 706.7L816.1 710.1L817.4 713.5L818.3 715.8L822.2 719.6L827.4 721.1L832.6 719.7L836.5 715.9L837.9 710.7L836.5 705.4L835.0 703.4L832.7 700.5L830.5 697.7L828.9 695.7L825.8 692.5L821.4 691.3L817.0 692.4L813.8 695.6L812.7 700.0ZM948.5 679.9L950.1 681.5L952.2 683.8L954.7 686.4L957.4 689.2L960.0 691.9L962.3 694.3L964.6 696.4L967.0 698.3L969.2 700.2L971.4 702.1L973.4 704.3L975.2 706.7L976.2 709.3L977.2 712.4L978.2 716.1L979.4 720.1L981.0 724.2L983.5 728.3L987.0 732.1L992.0 735.0L997.5 736.4L1002.9 736.5L1007.6 735.7L1011.8 734.9L1015.4 734.5L1019.0 734.0L1022.7 733.3L1026.5 732.6L1030.3 731.8L1034.0 730.8L1037.7 729.8L1041.0 728.8L1044.2 727.6L1047.5 726.4L1050.6 725.2L1053.8 723.9L1056.8 722.6L1059.6 721.3L1062.5 719.9L1066.2 717.9L1070.0 715.7L1073.4 713.5L1076.5 711.5L1078.9 709.9L1080.7 708.8L1084.3 704.8L1085.4 699.5L1083.8 694.3L1079.8 690.7L1074.5 689.6L1069.3 691.2L1067.4 692.4L1065.0 694.1L1062.1 695.9L1059.1 697.9L1056.0 699.7L1053.0 701.3L1050.7 702.4L1048.1 703.7L1045.5 704.9L1042.8 706.1L1040.1 707.2L1037.4 708.1L1034.8 709.0L1032.3 709.6L1029.3 710.2L1026.3 710.7L1023.2 711.0L1020.2 711.2L1017.3 711.2L1014.8 711.0L1012.7 710.5L1010.1 709.4L1008.8 707.7L1008.8 706.3L1008.9 705.2L1008.1 704.3L1007.3 704.2L1005.3 703.4L1002.5 702.0L999.2 700.0L995.7 697.9L992.1 695.5L988.8 693.3L985.5 691.0L982.5 688.8L979.7 686.7L977.0 684.8L974.2 683.1L971.3 681.5L967.9 679.9L964.2 678.5L960.4 677.2L956.9 676.2L953.9 675.3L951.8 674.6L950.3 674.1L948.7 674.5L947.5 675.6L947.0 677.2L947.4 678.8ZM980.0 713.3L978.7 714.6L976.6 716.6L973.6 719.3L970.3 722.7L966.9 726.9L963.8 732.9L963.0 739.9L964.1 745.6L966.0 750.0L968.0 753.4L970.2 756.4L973.3 759.9L977.0 762.6L980.1 764.5L982.2 765.7L983.6 766.8L985.4 767.1L987.1 766.4L988.2 765.0L988.5 763.2L987.8 761.6L987.2 759.2L986.5 755.9L986.1 752.6L986.2 749.6L986.3 747.1L986.4 744.3L986.8 742.3L987.6 741.7L988.0 742.8L988.0 744.2L989.3 743.7L991.6 742.4L994.3 741.0L997.0 739.5L999.1 738.2L1004.0 731.7L1005.1 723.7L1002.0 716.2L995.5 711.3L987.5 710.2ZM945.5 785.8L947.4 786.5L949.9 787.3L952.9 788.4L956.3 789.5L959.8 790.8L963.3 792.1L966.8 793.5L969.9 794.8L972.9 796.2L975.9 797.6L979.0 799.1L982.0 800.7L984.9 802.2L987.6 803.8L990.2 805.3L992.2 806.7L995.0 809.0L997.4 811.6L1000.3 814.7L1004.3 818.2L1010.5 821.4L1018.0 823.2L1024.9 824.1L1030.7 824.7L1034.7 825.5L1036.9 826.4L1047.4 818.6L1052.4 806.5L1050.8 793.5L1042.9 783.1L1030.9 778.0L1017.9 779.6L1016.0 782.2L1014.2 785.6L1013.2 789.0L1013.1 791.7L1014.0 793.7L1014.4 795.2L1012.9 795.5L1010.0 794.4L1006.3 792.4L1002.1 790.3L999.1 788.9L996.3 787.6L993.4 786.1L990.5 784.6L987.5 783.0L984.6 781.3L981.7 779.6L978.9 777.9L976.0 776.1L973.0 774.0L969.9 771.8L966.9 769.6L964.1 767.4L961.6 765.5L959.4 763.9L957.8 762.7L951.2 761.2L944.8 763.2L940.1 768.1L938.6 774.7L940.6 781.2ZM1023.9 828.2L1026.2 827.5L1029.6 826.8L1033.6 825.8L1037.8 824.4L1041.7 822.5L1044.8 819.8L1046.8 816.9L1048.3 813.4L1049.3 809.6L1050.0 805.8L1050.5 802.1L1051.0 798.7L1051.5 795.9L1052.9 791.6L1054.5 787.6L1056.0 784.3L1057.1 782.0L1058.9 779.4L1059.2 776.2L1057.9 773.4L1055.3 771.6L1052.2 771.3L1049.3 772.6L1046.8 773.2L1043.2 774.1L1038.7 775.3L1033.7 776.8L1030.3 777.7L1026.7 778.5L1022.8 779.2L1019.0 780.0L1015.5 780.9L1012.4 781.9L1010.0 783.2L1007.8 785.6L1005.8 789.0L1004.2 792.8L1002.8 796.5L1001.6 799.8L1000.7 802.1L995.7 809.7L995.2 818.7L999.3 826.7L1006.8 831.7L1015.8 832.2ZM920.8 799.3L922.1 800.6L923.9 802.6L926.1 805.4L928.6 808.5L931.3 811.8L934.0 815.2L936.8 818.3L939.4 821.2L942.0 823.8L944.6 826.2L947.1 828.5L949.5 830.7L951.8 832.7L954.1 834.7L956.6 836.8L959.1 838.9L961.5 840.9L964.0 842.8L966.7 844.9L969.7 847.2L971.9 848.8L974.3 850.6L976.8 852.5L979.4 854.3L982.0 856.3L984.7 858.2L987.3 860.1L989.9 862.0L992.5 863.9L995.0 865.7L997.5 867.6L1000.1 869.4L1002.6 871.3L1005.1 873.1L1007.7 875.0L1010.2 876.8L1012.7 878.7L1015.2 880.6L1017.7 882.4L1020.1 884.3L1022.5 886.2L1024.8 888.1L1027.2 890.0L1029.7 891.9L1032.2 893.9L1034.8 895.9L1037.5 898.0L1039.9 899.7L1042.5 901.7L1045.3 903.7L1048.2 905.8L1051.1 907.9L1053.9 909.9L1056.6 911.9L1059.1 913.7L1061.4 915.3L1063.3 916.6L1064.8 917.7L1069.0 919.3L1073.4 918.6L1076.9 915.7L1078.5 911.5L1077.8 907.0L1074.9 903.5L1073.5 902.5L1071.6 901.1L1069.4 899.5L1066.9 897.7L1064.2 895.7L1061.3 893.7L1058.4 891.6L1055.6 889.5L1052.8 887.5L1050.1 885.6L1047.7 883.9L1044.9 881.9L1042.3 880.1L1039.7 878.3L1037.1 876.6L1034.6 874.9L1032.1 873.2L1029.5 871.4L1027.0 869.7L1024.5 867.9L1021.9 866.1L1019.4 864.3L1016.9 862.4L1014.3 860.6L1011.8 858.7L1009.3 856.8L1006.8 855.0L1004.3 853.1L1001.8 851.2L999.2 849.4L996.5 847.4L993.9 845.5L991.2 843.6L988.6 841.7L986.0 839.8L983.6 838.0L981.3 836.3L979.1 834.7L976.2 832.4L973.5 830.5L971.2 828.6L968.9 826.9L966.8 825.0L964.4 822.9L962.2 820.9L959.8 818.9L957.6 817.0L955.5 815.0L953.7 813.0L952.3 811.0L951.4 808.9L951.1 806.6L951.0 803.7L951.2 800.5L951.6 797.1L951.9 793.9L952.2 790.9L952.2 788.6L947.4 781.5L939.7 777.7L931.2 778.3L924.1 783.0L920.3 790.7Z"/>
</g>
<ellipse cx="838.0" cy="481.8" rx="3.8" ry="7.3" transform="rotate(-24 838.0 481.8)" fill="#2347dc"/>
<ellipse cx="824.4" cy="573.0" rx="3.8" ry="7.3" transform="rotate(-24 824.4 573.0)" fill="#2347dc"/>
<ellipse cx="962.3" cy="582.9" rx="3.8" ry="7.3" transform="rotate(-24 962.3 582.9)" fill="#2347dc"/>
<ellipse cx="1026.4" cy="556.8" rx="3.8" ry="7.3" transform="rotate(-24 1026.4 556.8)" fill="#2347dc"/>
<ellipse cx="868.6" cy="681.8" rx="3.8" ry="7.3" transform="rotate(-24 868.6 681.8)" fill="#2347dc"/>
<ellipse cx="997.6" cy="718.2" rx="3.8" ry="7.3" transform="rotate(-24 997.6 718.2)" fill="#2347dc"/>
<ellipse cx="941.1" cy="769.7" rx="3.8" ry="7.3" transform="rotate(-24 941.1 769.7)" fill="#2347dc"/>
<ellipse cx="881.4" cy="779.5" rx="3.8" ry="7.3" transform="rotate(-24 881.4 779.5)" fill="#2347dc"/>
<ellipse cx="1029.7" cy="796.2" rx="3.8" ry="7.3" transform="rotate(-24 1029.7 796.2)" fill="#2347dc"/>
<ellipse cx="1016.4" cy="812.1" rx="3.8" ry="7.3" transform="rotate(-24 1016.4 812.1)" fill="#2347dc"/>
</g>
<g clip-path="url(#cR)">
<polygon points="1067.5,562.7 1347.3,425.7 1316.0,750.5 1067.5,916.9" fill="#edecc4" stroke="#edecc4" stroke-width="0.8"/>
<g fill="#90bae8" filter="url(#goo)" fill-rule="nonzero">
<path d="M1139.5 517.5L1138.1 518.9L1136.3 520.8L1134.0 523.0L1131.5 525.6L1129.0 528.2L1126.5 530.8L1124.2 533.4L1121.8 536.1L1119.6 538.8L1117.5 541.5L1115.5 544.1L1113.5 546.7L1111.5 549.3L1109.4 552.0L1107.6 554.6L1105.8 557.1L1104.1 559.3L1102.4 561.3L1100.4 563.1L1098.6 564.4L1096.3 565.7L1093.6 567.2L1090.6 568.9L1087.5 570.9L1084.1 573.4L1081.0 576.3L1078.2 579.4L1075.5 582.6L1072.9 586.4L1070.6 590.8L1068.7 595.9L1067.6 602.4L1067.9 609.6L1069.2 615.8L1070.4 620.3L1071.1 623.3L1071.2 624.6L1071.1 624.8L1071.6 626.1L1072.5 628.3L1073.5 630.6L1074.5 632.6L1075.3 634.0L1076.5 632.8L1078.2 631.2L1078.3 631.1L1073.8 635.4L1069.5 642.3L1067.6 648.0L1066.9 652.1L1066.4 656.1L1066.1 659.9L1065.9 663.5L1065.7 666.9L1065.6 670.0L1065.4 673.2L1065.2 676.6L1065.1 679.9L1065.0 683.3L1064.9 686.6L1064.8 690.0L1064.8 693.4L1064.7 696.8L1064.7 700.4L1064.7 704.0L1064.7 707.5L1064.7 710.9L1064.7 714.1L1064.7 716.9L1064.7 721.5L1064.6 725.5L1064.6 728.8L1064.6 731.1L1064.7 732.7L1065.5 734.0L1066.9 734.8L1068.5 734.7L1069.8 733.9L1070.5 732.5L1071.5 730.4L1073.0 727.4L1074.7 723.6L1076.5 719.4L1077.7 716.7L1078.9 713.8L1080.2 710.6L1081.6 707.3L1082.9 704.0L1084.3 700.7L1085.6 697.5L1086.8 694.4L1088.0 691.3L1089.2 688.1L1090.4 685.0L1091.6 681.9L1092.7 678.7L1093.8 675.4L1094.9 671.9L1095.9 668.2L1096.7 664.8L1097.6 661.7L1098.4 659.0L1099.1 657.2L1099.0 657.7L1099.0 658.2L1099.8 658.2L1105.0 654.1L1110.1 646.6L1112.6 639.9L1114.0 634.9L1115.1 630.1L1115.8 625.3L1116.1 620.6L1115.5 615.2L1113.6 609.1L1111.0 604.3L1108.6 601.2L1106.9 599.6L1106.0 599.8L1105.4 601.2L1104.8 601.9L1104.3 601.4L1104.2 600.2L1104.4 598.5L1104.9 596.3L1105.6 594.0L1106.1 592.4L1106.9 590.5L1108.3 588.2L1110.1 585.6L1112.2 582.9L1114.4 579.9L1116.5 576.9L1118.6 573.6L1120.5 570.6L1122.1 567.8L1123.7 565.2L1125.2 562.8L1126.7 560.4L1128.5 558.0L1130.3 555.5L1132.2 553.1L1134.2 550.7L1136.2 548.4L1138.2 546.0L1140.2 544.0L1142.6 541.7L1145.1 539.3L1147.5 536.9L1149.8 534.8L1151.8 532.9L1153.3 531.6L1155.9 527.2L1155.9 522.1L1153.4 517.6L1149.0 515.1L1143.9 515.0ZM1183.2 537.1L1185.0 535.9L1187.3 534.4L1189.9 532.7L1192.9 530.8L1195.9 528.9L1198.9 527.0L1201.8 525.3L1204.4 523.8L1206.8 522.4L1209.3 521.0L1211.9 519.6L1214.6 518.2L1217.4 516.8L1220.3 515.3L1223.2 513.7L1226.2 512.2L1229.1 510.6L1232.0 509.0L1234.8 507.4L1237.6 505.9L1240.4 504.4L1243.1 502.9L1245.9 501.5L1248.7 500.2L1251.5 498.9L1254.4 497.5L1257.2 496.3L1260.0 495.1L1262.7 494.1L1265.3 493.2L1267.8 492.4L1270.3 491.7L1273.3 491.1L1276.4 490.7L1279.5 490.3L1282.6 490.1L1285.5 489.9L1288.2 489.7L1291.0 489.3L1295.0 488.3L1297.3 487.1L1296.7 486.2L1294.3 485.0L1293.1 483.8L1291.9 482.5L1292.6 483.2L1294.1 485.3L1295.9 488.3L1298.1 491.8L1300.8 495.7L1304.2 499.8L1309.7 504.2L1316.7 506.9L1323.2 507.8L1328.7 507.6L1333.1 507.1L1336.0 506.6L1337.7 506.4L1344.4 504.3L1349.3 499.2L1350.9 492.3L1348.9 485.6L1343.7 480.7L1336.9 479.1L1334.2 479.0L1330.9 479.1L1328.0 479.0L1325.8 478.7L1325.0 478.3L1325.5 478.3L1326.7 478.9L1326.2 477.9L1325.0 475.7L1323.5 472.8L1321.7 469.3L1319.6 465.4L1316.7 461.1L1311.8 456.2L1304.8 452.1L1296.7 450.1L1290.5 450.0L1286.6 450.3L1283.5 450.7L1280.7 451.3L1277.1 452.4L1273.5 453.8L1269.8 455.3L1266.1 457.0L1262.5 458.7L1258.8 460.4L1255.6 462.0L1252.4 463.6L1249.3 465.2L1246.4 466.8L1243.4 468.5L1240.6 470.1L1237.8 471.6L1235.0 473.1L1232.1 474.7L1229.1 476.3L1226.2 477.8L1223.3 479.4L1220.4 480.9L1217.6 482.4L1214.7 483.9L1212.0 485.4L1209.3 486.8L1206.5 488.2L1203.6 489.6L1200.7 491.1L1197.6 492.6L1194.6 494.3L1191.5 496.1L1188.4 498.0L1185.2 500.3L1182.0 502.7L1178.8 505.2L1175.8 507.6L1173.0 510.0L1170.6 512.1L1168.6 513.8L1167.1 515.1L1162.7 520.6L1161.6 527.5L1164.1 534.1L1169.6 538.5L1176.6 539.6ZM1310.1 483.9L1310.5 481.7L1311.0 478.5L1311.6 474.8L1312.2 470.8L1312.8 467.1L1313.4 463.9L1313.7 461.7L1314.5 457.1L1312.9 452.6L1309.3 449.6L1304.6 448.8L1300.2 450.5L1297.2 454.1L1295.8 455.8L1293.7 458.2L1291.2 461.1L1288.6 464.2L1286.1 467.1L1284.1 469.5L1282.6 471.2L1281.3 479.0L1284.0 486.3L1290.0 491.3L1297.7 492.7L1305.1 490.0ZM1160.9 521.0L1159.9 522.7L1158.4 525.2L1156.6 528.4L1154.8 532.0L1152.9 535.9L1151.5 539.7L1150.4 543.3L1149.5 546.8L1148.7 550.7L1148.0 554.8L1147.5 559.2L1147.1 563.9L1146.9 568.3L1146.8 572.5L1146.8 576.5L1146.8 580.2L1146.9 583.7L1147.1 586.8L1147.3 589.7L1147.8 592.7L1148.6 595.8L1149.5 599.0L1150.5 602.3L1151.4 605.6L1152.2 609.1L1152.7 612.6L1152.9 616.3L1152.9 620.1L1152.7 623.9L1152.4 627.6L1152.1 631.1L1151.7 634.3L1151.5 637.7L1151.6 642.4L1151.7 646.5L1151.3 648.7L1150.4 647.5L1155.1 629.6L1166.2 617.4L1159.6 619.1L1150.9 625.4L1149.4 628.3L1147.8 631.8L1146.3 635.6L1144.7 639.7L1143.0 643.9L1141.3 648.0L1139.5 652.0L1137.6 655.8L1135.7 659.1L1134.0 662.3L1132.2 665.4L1130.5 668.3L1128.8 671.1L1127.2 673.8L1125.5 676.3L1123.9 678.7L1122.4 680.9L1120.8 683.0L1119.0 685.4L1117.1 687.7L1115.1 689.9L1113.0 692.0L1110.9 694.1L1108.8 696.2L1106.6 698.3L1104.4 700.4L1102.2 702.5L1099.9 704.5L1097.6 706.4L1095.1 708.4L1092.5 710.4L1089.9 712.5L1087.3 714.8L1084.6 717.1L1082.1 719.6L1079.7 722.3L1077.4 725.1L1075.2 728.0L1073.0 731.1L1071.0 734.2L1069.1 737.5L1067.3 740.9L1065.7 744.4L1064.1 748.3L1062.7 753.3L1061.9 758.3L1061.8 762.7L1062.0 766.5L1062.4 769.7L1062.8 772.4L1063.2 776.9L1063.8 781.4L1064.4 785.2L1064.8 787.9L1064.6 790.3L1065.7 792.4L1067.6 793.7L1070.0 793.9L1072.1 792.8L1073.4 790.9L1075.4 788.9L1078.2 786.2L1081.4 782.9L1084.5 779.1L1086.5 776.0L1088.4 772.9L1090.2 770.1L1092.0 767.6L1093.6 765.7L1095.3 763.8L1096.6 762.5L1098.2 760.8L1100.0 758.9L1101.8 756.9L1103.8 754.7L1105.9 752.3L1108.0 749.9L1110.0 747.4L1111.6 745.3L1113.3 743.2L1115.0 740.8L1116.8 738.3L1118.7 735.7L1120.7 733.0L1122.8 730.3L1124.9 727.5L1126.9 724.8L1128.9 722.2L1130.8 719.7L1132.7 717.2L1134.5 714.6L1136.4 712.1L1138.4 709.6L1140.4 707.0L1142.4 704.5L1144.6 701.8L1146.7 699.3L1148.7 696.6L1150.6 694.0L1152.5 691.5L1154.4 689.1L1156.3 686.9L1158.2 684.8L1160.2 683.1L1162.2 681.6L1164.2 680.6L1166.9 679.6L1170.1 678.9L1173.5 678.3L1177.1 678.0L1180.7 677.7L1184.1 677.6L1187.1 677.4L1189.7 677.2L1184.6 680.9L1188.6 679.5L1204.3 665.0L1209.2 642.9L1207.3 636.3L1205.3 632.1L1203.5 629.2L1201.8 626.5L1200.5 624.2L1198.8 621.3L1197.1 618.2L1195.4 615.2L1193.8 612.1L1192.5 609.1L1191.5 606.1L1191.0 603.2L1190.9 600.2L1190.9 597.1L1191.1 593.8L1191.2 590.5L1191.2 587.2L1190.9 583.6L1190.1 580.0L1189.2 576.5L1188.1 573.3L1187.1 570.4L1186.1 567.9L1185.4 565.7L1185.0 564.0L1184.8 561.7L1185.0 559.4L1185.3 557.0L1185.8 554.4L1186.3 551.5L1186.7 548.7L1187.0 545.9L1187.5 542.8L1188.0 539.5L1188.5 536.2L1189.0 533.3L1189.4 531.1L1190.0 523.3L1186.7 516.2L1180.2 511.8L1172.4 511.2L1165.3 514.5ZM1174.7 668.0L1177.0 669.4L1180.3 671.4L1184.2 673.7L1188.0 676.0L1191.4 678.0L1193.6 679.4L1196.2 681.8L1199.7 682.6L1203.1 681.5L1205.4 678.9L1206.2 675.5L1205.1 672.1L1204.9 669.5L1204.5 665.6L1204.0 661.1L1203.5 656.6L1203.1 652.8L1202.8 650.1L1196.5 644.3L1188.1 642.4L1179.8 645.0L1174.0 651.4L1172.1 659.8ZM1166.3 666.4L1165.1 668.5L1163.3 671.5L1161.2 674.9L1159.1 678.5L1157.3 681.9L1155.7 685.3L1154.1 689.0L1152.5 692.5L1151.3 695.6L1150.3 697.8L1150.2 698.5L1150.4 699.3L1150.9 699.8L1151.7 700.0L1152.4 699.8L1153.0 699.2L1154.3 697.3L1156.3 694.6L1158.5 691.4L1160.7 688.0L1162.7 684.8L1164.5 681.4L1166.3 677.6L1167.9 673.9L1169.3 670.7L1170.3 668.5L1170.6 667.3L1170.3 666.2L1169.4 665.4L1168.2 665.2L1167.1 665.5ZM1283.2 494.3L1282.8 496.2L1282.2 498.7L1281.6 501.7L1280.8 505.1L1280.0 508.7L1279.0 512.4L1278.1 516.0L1277.1 519.5L1276.0 522.6L1274.7 525.8L1273.3 528.9L1271.9 531.8L1270.4 534.7L1268.9 537.4L1267.4 540.0L1266.0 542.6L1264.7 545.1L1263.2 548.0L1261.7 550.8L1260.2 553.6L1258.8 556.3L1257.4 559.0L1255.9 561.6L1254.3 564.2L1252.7 567.0L1251.1 569.7L1249.5 572.4L1247.9 574.9L1246.3 577.2L1244.8 579.2L1243.4 580.9L1241.5 582.7L1239.5 584.4L1237.3 585.9L1235.1 587.3L1232.8 588.6L1230.8 589.7L1228.6 590.7L1226.2 591.4L1223.3 592.3L1219.7 593.3L1215.9 594.9L1212.2 597.1L1208.8 599.6L1205.7 602.0L1203.2 604.0L1201.5 605.4L1199.2 608.1L1198.7 611.6L1199.9 614.9L1202.6 617.1L1206.1 617.7L1209.4 616.5L1211.4 615.2L1214.0 613.4L1216.9 611.5L1219.9 609.8L1222.3 608.7L1224.3 608.1L1226.8 607.7L1230.0 607.2L1233.8 606.3L1237.7 604.9L1240.8 603.3L1243.7 601.7L1246.7 599.8L1249.7 597.6L1252.6 595.2L1255.4 592.4L1257.8 589.7L1259.9 586.9L1261.9 584.0L1263.7 581.2L1265.4 578.3L1267.1 575.5L1268.7 572.7L1270.3 570.0L1271.9 567.1L1273.5 564.3L1275.1 561.4L1276.6 558.5L1278.1 555.6L1279.6 552.5L1280.8 549.6L1282.0 546.7L1283.0 543.7L1284.1 540.8L1285.2 537.8L1286.4 535.0L1287.8 532.2L1289.5 529.5L1291.3 527.1L1293.6 524.6L1296.1 522.0L1298.7 519.4L1301.3 516.9L1303.9 514.6L1306.2 512.5L1308.1 510.7L1309.5 509.3L1311.5 501.7L1309.4 494.2L1303.9 488.7L1296.3 486.7L1288.7 488.7ZM1235.0 597.9L1235.0 599.7L1234.8 602.0L1234.6 604.9L1234.4 608.2L1234.2 611.8L1234.0 615.5L1233.8 619.3L1233.6 622.9L1233.5 626.4L1233.5 629.7L1233.6 633.1L1234.1 638.7L1235.3 643.9L1236.8 648.4L1238.0 651.8L1241.1 656.4L1244.4 659.4L1240.5 654.9L1239.6 650.6L1239.5 652.6L1239.2 655.6L1238.7 659.2L1238.3 662.8L1238.0 666.0L1237.7 668.9L1237.4 671.9L1237.1 674.9L1236.7 678.3L1236.3 681.4L1236.0 684.7L1235.6 688.1L1235.1 691.4L1234.6 694.5L1233.8 697.6L1233.0 700.6L1232.0 703.5L1231.0 706.3L1229.9 708.9L1228.7 711.3L1227.3 713.6L1225.9 715.5L1224.2 717.5L1222.3 719.6L1220.1 721.8L1217.7 724.2L1215.3 726.7L1212.9 729.3L1210.6 731.9L1208.4 734.4L1206.1 737.1L1203.7 739.8L1201.5 742.6L1199.2 745.4L1197.1 748.2L1195.1 751.2L1193.4 754.2L1191.9 757.0L1190.4 759.7L1189.1 762.2L1187.8 764.5L1186.4 766.6L1184.5 769.3L1182.6 771.9L1180.7 774.4L1178.9 776.4L1177.2 778.1L1175.6 779.2L1173.5 780.5L1171.3 781.5L1169.2 782.2L1167.4 782.3L1166.5 781.8L1165.8 780.7L1164.4 778.6L1162.4 776.0L1160.2 773.4L1158.3 771.4L1149.8 769.7L1141.7 772.5L1136.0 779.0L1134.3 787.4L1137.0 795.6L1143.5 801.3L1145.7 801.4L1149.3 801.8L1154.2 802.5L1159.7 803.1L1165.7 803.0L1170.9 802.0L1175.4 800.4L1179.5 798.5L1183.3 796.2L1186.8 793.5L1189.7 790.7L1192.2 787.8L1194.4 784.7L1196.5 781.7L1198.4 778.7L1200.3 775.8L1202.0 773.1L1203.6 770.3L1205.0 767.5L1206.5 764.9L1207.8 762.4L1209.3 760.1L1210.8 757.8L1212.5 755.5L1214.4 753.0L1216.5 750.5L1218.7 748.0L1220.9 745.4L1223.2 742.9L1225.3 740.4L1227.4 738.1L1229.6 735.9L1231.9 733.6L1234.3 731.1L1236.7 728.5L1239.0 725.8L1241.2 722.7L1243.3 719.2L1245.0 715.7L1246.4 712.3L1247.6 708.9L1248.7 705.7L1249.8 702.4L1251.0 699.0L1252.1 695.4L1253.2 691.9L1254.2 688.4L1255.1 685.3L1256.0 682.3L1257.0 679.0L1257.9 675.9L1258.8 673.0L1259.7 670.2L1260.5 667.5L1261.5 664.6L1262.7 661.3L1264.0 657.8L1265.0 653.9L1264.3 645.1L1257.2 637.9L1254.7 638.2L1254.7 638.9L1252.3 637.5L1250.1 636.2L1248.3 634.4L1247.1 631.1L1246.9 629.6L1247.0 627.0L1247.3 623.9L1247.7 620.6L1248.3 617.1L1248.9 613.6L1249.6 610.2L1250.2 607.0L1250.8 604.1L1251.3 601.6L1251.6 599.7L1251.0 595.4L1248.3 592.1L1244.2 590.5L1240.0 591.2L1236.6 593.9ZM1329.3 551.8L1327.9 553.4L1325.9 555.6L1323.6 558.2L1321.1 561.1L1318.4 564.2L1315.9 567.3L1313.5 570.4L1311.5 573.4L1309.7 576.8L1308.2 580.0L1307.1 583.1L1306.1 585.9L1305.1 588.4L1304.1 590.8L1303.0 593.1L1301.8 595.0L1300.2 597.1L1298.3 599.6L1296.2 602.4L1294.0 605.5L1291.7 608.9L1289.7 612.8L1288.0 617.2L1286.9 622.0L1286.6 626.7L1286.8 631.1L1287.3 635.1L1287.8 638.7L1288.4 642.0L1288.9 645.6L1290.1 651.0L1291.7 655.2L1291.9 656.2L1291.3 655.1L1290.9 653.0L1289.0 652.4L1285.5 653.5L1280.8 656.9L1277.2 662.2L1275.8 666.8L1275.6 670.8L1275.8 674.8L1276.3 678.9L1276.9 682.8L1277.5 686.6L1277.9 690.1L1277.8 693.3L1277.3 696.5L1276.5 699.6L1275.6 702.3L1274.5 704.8L1273.3 707.2L1272.0 709.5L1270.7 711.9L1269.2 714.3L1267.4 716.8L1265.5 719.4L1263.4 722.0L1261.2 724.8L1258.9 727.6L1256.8 730.6L1254.9 733.1L1253.1 735.7L1251.3 738.3L1249.4 740.9L1247.6 743.6L1245.7 746.4L1243.9 749.2L1242.1 752.0L1240.4 754.9L1238.6 757.8L1236.9 760.8L1235.2 763.9L1233.6 766.9L1232.1 769.8L1230.7 772.7L1229.4 775.8L1227.8 780.4L1226.5 784.9L1225.6 788.9L1225.0 791.9L1224.5 793.9L1225.2 799.8L1228.8 804.5L1234.2 806.7L1240.1 806.0L1244.8 802.4L1247.0 797.0L1247.1 794.6L1247.2 791.6L1247.3 788.4L1247.5 785.2L1248.2 781.8L1248.7 779.7L1249.5 777.2L1250.5 774.4L1251.6 771.6L1252.8 768.7L1254.1 765.7L1255.4 762.9L1256.7 760.1L1258.0 757.5L1259.5 754.9L1261.0 752.2L1262.6 749.6L1264.3 747.0L1266.0 744.3L1267.7 741.7L1269.3 739.1L1271.1 736.3L1273.0 733.5L1275.0 730.6L1277.0 727.7L1279.0 724.7L1280.9 721.6L1282.7 718.4L1284.1 715.2L1285.2 712.2L1286.1 709.1L1287.0 706.2L1287.9 703.4L1289.1 700.6L1290.7 697.7L1292.6 694.9L1295.0 692.0L1297.5 689.0L1300.2 686.2L1302.8 683.5L1305.2 681.2L1307.1 679.3L1307.9 678.7L1308.5 677.3L1308.6 675.4L1309.7 671.9L1311.6 666.9L1313.5 660.0L1313.0 652.8L1311.2 647.9L1310.2 645.4L1309.9 642.9L1310.1 641.0L1310.4 638.1L1310.9 635.2L1311.6 632.4L1312.3 629.9L1313.1 627.6L1313.8 625.8L1314.5 624.5L1315.5 622.7L1316.8 620.4L1318.5 617.7L1320.4 614.8L1322.3 611.6L1324.3 608.1L1326.1 604.5L1327.7 600.6L1329.0 597.0L1330.0 593.6L1330.9 590.5L1331.6 587.6L1332.2 584.7L1332.7 581.7L1333.2 578.6L1333.7 575.0L1334.2 571.1L1334.7 567.2L1335.2 563.4L1335.6 559.9L1335.9 557.0L1336.2 554.9L1336.5 552.9L1335.8 551.1L1334.3 549.9L1332.3 549.6L1330.5 550.3ZM1272.7 663.1L1270.0 664.1L1266.0 665.4L1262.1 666.7L1259.4 667.7L1254.9 670.0L1252.1 674.3L1251.9 679.4L1254.3 683.9L1258.6 686.7L1263.7 686.9L1266.5 686.6L1270.6 686.1L1274.8 685.7L1277.6 685.3L1282.8 682.6L1286.0 677.7L1286.2 671.8L1283.5 666.6L1278.6 663.4ZM1187.8 715.0L1184.9 716.0L1180.5 718.3L1178.6 719.8L1176.1 721.8L1173.5 724.1L1170.8 726.4L1168.1 728.6L1166.0 730.4L1163.7 732.2L1161.3 734.2L1158.7 736.3L1156.0 738.4L1153.0 740.7L1150.2 742.9L1147.4 745.1L1144.6 747.1L1142.1 748.9L1139.8 750.3L1138.0 751.3L1136.6 752.0L1135.2 752.8L1133.5 753.7L1131.2 754.7L1128.4 755.8L1125.4 756.8L1122.1 757.7L1118.8 758.5L1115.2 759.3L1111.5 759.8L1107.9 760.2L1104.6 760.5L1101.8 760.7L1099.8 760.9L1095.0 763.6L1092.2 768.3L1092.1 773.8L1094.8 778.6L1099.6 781.4L1105.0 781.5L1106.9 780.7L1109.5 779.5L1112.5 778.2L1115.8 776.9L1119.2 775.7L1122.4 774.8L1124.9 774.5L1127.8 774.6L1131.0 774.8L1134.6 774.9L1138.5 774.7L1142.8 773.9L1147.1 772.2L1150.9 769.6L1154.1 766.7L1156.6 763.6L1158.7 760.5L1160.6 757.7L1162.3 755.3L1164.0 753.2L1166.3 751.1L1168.8 749.1L1171.4 747.2L1174.0 745.3L1176.6 743.3L1179.2 741.1L1182.0 738.3L1184.7 735.3L1187.1 732.5L1189.2 729.8L1191.0 727.1L1192.7 721.8L1192.8 718.3L1193.3 716.9L1193.0 715.3L1192.0 714.1L1190.5 713.6L1189.0 714.0ZM1131.0 765.5L1132.6 767.4L1134.8 770.3L1136.3 774.3L1136.6 777.8L1136.4 782.0L1136.1 786.3L1135.7 790.0L1135.5 792.6L1140.7 799.5L1148.6 802.9L1157.2 801.8L1164.0 796.6L1167.4 788.7L1166.4 780.1L1164.4 778.4L1161.5 776.0L1158.3 773.2L1155.4 770.4L1153.4 768.1L1152.2 764.4L1152.4 761.1L1152.7 758.7L1149.5 753.7L1144.3 751.0L1138.4 751.3L1133.4 754.4L1130.7 759.7ZM1136.1 776.8L1135.5 779.0L1134.6 782.1L1133.6 785.8L1132.4 789.7L1131.1 793.5L1129.7 797.0L1128.3 799.9L1126.7 802.7L1125.1 805.5L1123.4 808.1L1121.7 810.7L1120.1 813.4L1118.2 816.5L1116.5 819.6L1114.8 822.6L1113.0 825.7L1110.9 828.7L1109.2 830.8L1107.2 833.0L1105.0 835.4L1102.7 837.9L1100.3 840.7L1098.0 843.9L1095.8 848.0L1094.1 853.2L1093.0 858.3L1092.2 862.5L1091.3 865.1L1090.3 865.5L1090.1 863.8L1090.7 863.2L1091.0 865.1L1090.7 868.1L1090.1 871.5L1089.3 874.8L1088.7 877.2L1086.6 881.8L1087.2 886.9L1090.2 891.0L1094.9 893.1L1099.9 892.5L1104.0 889.5L1106.0 888.7L1109.0 887.5L1112.8 885.7L1116.9 882.9L1120.8 878.9L1123.8 872.6L1124.3 865.2L1122.6 859.6L1120.2 856.1L1118.0 854.0L1116.2 853.0L1115.1 852.0L1114.7 850.9L1115.0 848.7L1115.8 846.2L1117.0 843.4L1118.4 840.6L1119.8 837.8L1121.2 835.0L1123.0 831.5L1124.7 828.4L1126.4 825.5L1128.3 822.8L1130.2 820.0L1131.9 817.6L1133.7 815.1L1135.5 812.7L1137.4 810.4L1139.5 808.2L1141.8 806.1L1144.6 804.1L1147.9 802.1L1151.4 800.2L1154.7 798.5L1157.6 797.0L1159.6 795.9L1162.8 788.7L1162.0 780.9L1157.4 774.6L1150.3 771.4L1142.5 772.2ZM1158.8 803.2L1160.4 804.7L1162.6 807.0L1165.4 809.8L1168.5 812.7L1171.8 815.5L1175.4 818.0L1180.6 820.1L1185.7 821.1L1189.8 821.4L1192.4 821.5L1196.0 821.9L1199.2 820.4L1201.2 817.6L1201.6 814.0L1200.1 810.8L1197.3 808.8L1195.1 807.1L1192.2 804.9L1189.4 802.5L1187.0 800.2L1185.4 798.7L1183.0 796.5L1180.2 794.0L1177.5 791.5L1175.1 789.3L1173.3 787.7L1168.5 785.1L1163.0 785.3L1158.3 788.2L1155.7 793.0L1155.9 798.5ZM1127.7 874.6L1129.2 873.5L1131.3 872.0L1133.8 870.2L1136.5 868.2L1139.5 866.0L1142.5 863.8L1145.5 861.6L1148.4 859.5L1151.1 857.3L1153.8 855.2L1156.5 853.0L1159.2 850.8L1161.8 848.7L1164.4 846.6L1166.9 844.7L1169.5 842.9L1172.3 841.0L1175.3 839.1L1178.6 837.2L1181.8 835.3L1184.9 833.5L1187.7 831.9L1190.1 830.5L1191.8 829.5L1194.1 827.2L1194.8 824.2L1194.0 821.2L1191.8 819.0L1188.8 818.2L1185.7 819.0L1184.0 820.0L1181.7 821.4L1178.8 823.0L1175.7 824.8L1172.4 826.7L1169.0 828.8L1165.7 830.8L1162.6 832.9L1159.7 835.0L1156.9 837.2L1154.2 839.4L1151.6 841.6L1149.0 843.8L1146.4 845.9L1143.9 847.8L1141.3 849.6L1138.6 851.4L1135.6 853.2L1132.4 854.9L1129.3 856.6L1126.3 858.2L1123.6 859.6L1121.3 860.8L1119.6 861.8L1116.9 864.7L1116.1 868.5L1117.2 872.2L1120.1 874.9L1123.9 875.8ZM1069.8 787.3L1071.6 788.7L1074.2 790.8L1077.2 793.3L1080.3 795.8L1082.9 797.9L1084.7 799.4L1087.4 801.6L1090.9 802.2L1094.2 801.0L1096.5 798.3L1097.1 794.9L1095.9 791.5L1095.1 789.4L1094.0 786.2L1092.8 782.4L1091.5 778.7L1090.4 775.5L1089.6 773.4L1084.8 769.3L1078.6 768.2L1072.7 770.4L1068.7 775.2L1067.6 781.4ZM1062.6 903.5L1064.4 905.5L1067.0 908.4L1069.7 911.3L1071.5 913.2L1073.3 914.7L1075.6 915.1L1077.8 914.3L1079.3 912.5L1079.7 910.2L1078.9 908.0L1077.6 905.6L1075.7 902.2L1073.8 898.8L1072.5 896.5L1070.1 894.5L1067.0 894.0L1064.1 895.1L1062.1 897.5L1061.5 900.6Z"/>
</g>
<ellipse cx="1171.4" cy="554.5" rx="4.2" ry="7.9" transform="rotate(26 1171.4 554.5)" fill="#2347dc"/>
<ellipse cx="1302.9" cy="495.8" rx="4.2" ry="7.9" transform="rotate(26 1302.9 495.8)" fill="#2347dc"/>
<ellipse cx="1321.7" cy="578.3" rx="4.2" ry="7.9" transform="rotate(26 1321.7 578.3)" fill="#2347dc"/>
<ellipse cx="1186.5" cy="643.5" rx="4.2" ry="7.9" transform="rotate(26 1186.5 643.5)" fill="#2347dc"/>
<ellipse cx="1141.8" cy="762.1" rx="4.2" ry="7.9" transform="rotate(26 1141.8 762.1)" fill="#2347dc"/>
<ellipse cx="1292.6" cy="670.5" rx="4.2" ry="7.9" transform="rotate(26 1292.6 670.5)" fill="#2347dc"/>
<ellipse cx="1107.7" cy="869.7" rx="4.2" ry="7.9" transform="rotate(26 1107.7 869.7)" fill="#2347dc"/>
</g>
</g>
<g id="zoombox">
<defs>
<radialGradient id="gCy" cx="0.4" cy="0.35" r="0.65"><stop offset="0" stop-color="#8ff0ff"/><stop offset="0.5" stop-color="#1fb6e8"/><stop offset="1" stop-color="#0a86c6"/></radialGradient>
<radialGradient id="gYe" cx="0.4" cy="0.35" r="0.65"><stop offset="0" stop-color="#ffffb0"/><stop offset="0.6" stop-color="#f6f055"/><stop offset="1" stop-color="#d8cf38"/></radialGradient>
<radialGradient id="gBl" cx="0.55" cy="0.6" r="0.6"><stop offset="0" stop-color="#7d86ff"/><stop offset="0.5" stop-color="#1838e8"/><stop offset="1" stop-color="#0a1fa8"/></radialGradient>
<clipPath id="cBox"><rect x="815.8" y="985.5" width="498.7" height="499.2" rx="76" ry="76"/></clipPath>
</defs>
<path d="M1001 793.6 L838.5 1009 M1048.7 787.7 L1279 998" stroke="#000" stroke-width="2.8" fill="none"/>
<g clip-path="url(#cBox)">
<rect x="810" y="980" width="510" height="510" fill="#fbf8d2"/>
<circle cx="771.9" cy="1036.3" r="98.0" fill="#9ac5f5"/>
<circle cx="1050.3" cy="1036.3" r="98.0" fill="#9ac5f5"/>
<circle cx="1328.7" cy="1036.3" r="98.0" fill="#9ac5f5"/>
<circle cx="924.3" cy="1243.6" r="98.0" fill="#9ac5f5"/>
<circle cx="1202.7" cy="1243.6" r="98.0" fill="#9ac5f5"/>
<circle cx="763.7" cy="1448.1" r="98.0" fill="#9ac5f5"/>
<circle cx="1042.2" cy="1448.1" r="98.0" fill="#9ac5f5"/>
<circle cx="1321.8" cy="1448.1" r="98.0" fill="#9ac5f5"/>
<rect x="810" y="1015.2" width="510" height="36.6" fill="#9ac5f5"/>
<rect x="810" y="1220.4" width="510" height="36.6" fill="#9ac5f5"/>
<rect x="810" y="1425.7" width="510" height="36.6" fill="#9ac5f5"/>
<path d="M970.2 1018.0 Q969.4 996.1 962.1 988.8" fill="none" stroke="#fffce2" stroke-width="2.7"/>
<path d="M979.2 1065.2 Q978.5 1091.7 972.7 1100.5" fill="none" stroke="#fffce2" stroke-width="2.7"/>
<path d="M1010.9 1091.6 Q1010.2 1115.7 1004.4 1123.7" fill="none" stroke="#fffce2" stroke-width="2.7"/>
<path d="M1049.5 1104.6 Q1049.6 1127.5 1050.3 1135.1" fill="none" stroke="#fffce2" stroke-width="2.7"/>
<path d="M1093.8 1091.6 Q1094.3 1116.6 1098.7 1124.9" fill="none" stroke="#fffce2" stroke-width="2.7"/>
<path d="M1125.5 1055.8 Q1126.2 1082.4 1132.8 1091.2" fill="none" stroke="#fffce2" stroke-width="2.7"/>
<path d="M1119.4 1008.3 Q1119.9 993.0 1124.7 988.0" fill="none" stroke="#fffce2" stroke-width="2.7"/>
<path d="M1004.8 988.0 Q1004.8 986.1 1004.8 985.5" fill="none" stroke="#fffce2" stroke-width="2.7"/>
<path d="M854.4 1019.3 Q855.3 997.9 863.3 990.8" fill="none" stroke="#fffce2" stroke-width="2.7"/>
<path d="M845.8 1066.0 Q846.6 1088.9 853.2 1096.5" fill="none" stroke="#fffce2" stroke-width="2.7"/>
<path d="M818.6 1092.4 Q818.7 1100.0 819.8 1102.6" fill="none" stroke="#fffce2" stroke-width="2.7"/>
<path d="M1256.4 1008.3 Q1257.1 993.0 1263.7 988.0" fill="none" stroke="#fffce2" stroke-width="2.7"/>
<path d="M1251.5 1055.8 Q1250.9 1078.7 1245.4 1086.3" fill="none" stroke="#fffce2" stroke-width="2.7"/>
<path d="M1286.8 1091.2 Q1286.4 1115.0 1282.0 1122.9" fill="none" stroke="#fffce2" stroke-width="2.7"/>
<path d="M918.2 1175.7 Q917.5 1153.8 910.9 1146.5" fill="none" stroke="#fffce2" stroke-width="2.7"/>
<path d="M954.8 1183.9 Q955.9 1161.0 966.2 1153.4" fill="none" stroke="#fffce2" stroke-width="2.7"/>
<path d="M878.8 1192.8 Q877.8 1169.3 869.4 1161.5" fill="none" stroke="#fffce2" stroke-width="2.7"/>
<path d="M844.2 1223.3 Q843.2 1200.4 833.7 1192.8" fill="none" stroke="#fffce2" stroke-width="2.7"/>
<path d="M994.2 1213.1 Q995.1 1190.6 1002.7 1183.1" fill="none" stroke="#fffce2" stroke-width="2.7"/>
<path d="M999.5 1261.1 Q1000.3 1283.0 1007.6 1290.4" fill="none" stroke="#fffce2" stroke-width="2.7"/>
<path d="M853.2 1270.0 Q852.7 1294.4 848.3 1302.6" fill="none" stroke="#fffce2" stroke-width="2.7"/>
<path d="M885.7 1296.9 Q885.0 1319.4 879.2 1326.9" fill="none" stroke="#fffce2" stroke-width="2.7"/>
<path d="M924.3 1309.9 Q925.1 1332.7 932.8 1340.4" fill="none" stroke="#fffce2" stroke-width="2.7"/>
<path d="M967.0 1296.9 Q967.9 1318.8 975.9 1326.1" fill="none" stroke="#fffce2" stroke-width="2.7"/>
<path d="M1167.3 1183.9 Q1166.4 1161.9 1158.0 1154.6" fill="none" stroke="#fffce2" stroke-width="2.7"/>
<path d="M1207.6 1177.0 Q1208.3 1154.1 1214.9 1146.5" fill="none" stroke="#fffce2" stroke-width="2.7"/>
<path d="M1246.2 1192.0 Q1247.1 1169.1 1255.5 1161.5" fill="none" stroke="#fffce2" stroke-width="2.7"/>
<path d="M1130.4 1213.1 Q1129.4 1191.2 1120.6 1183.9" fill="none" stroke="#fffce2" stroke-width="2.7"/>
<path d="M1279.9 1223.3 Q1280.8 1200.4 1288.9 1192.8" fill="none" stroke="#fffce2" stroke-width="2.7"/>
<path d="M1125.5 1261.9 Q1124.7 1285.1 1118.2 1292.8" fill="none" stroke="#fffce2" stroke-width="2.7"/>
<path d="M1271.8 1270.0 Q1272.5 1293.2 1279.1 1300.9" fill="none" stroke="#fffce2" stroke-width="2.7"/>
<path d="M1160.8 1296.9 Q1160.1 1319.4 1153.1 1326.9" fill="none" stroke="#fffce2" stroke-width="2.7"/>
<path d="M1202.7 1308.6 Q1202.7 1332.4 1202.7 1340.4" fill="none" stroke="#fffce2" stroke-width="2.7"/>
<path d="M1238.5 1298.5 Q1239.4 1320.7 1247.4 1328.2" fill="none" stroke="#fffce2" stroke-width="2.7"/>
<path d="M1034.8 1381.0 Q1034.4 1358.7 1030.0 1351.3" fill="none" stroke="#fffce2" stroke-width="2.7"/>
<path d="M1072.6 1388.3 Q1073.5 1366.1 1080.8 1358.6" fill="none" stroke="#fffce2" stroke-width="2.7"/>
<path d="M996.6 1397.3 Q995.8 1374.4 988.1 1366.8" fill="none" stroke="#fffce2" stroke-width="2.7"/>
<path d="M1112.1 1418.4 Q1112.9 1396.4 1120.6 1389.1" fill="none" stroke="#fffce2" stroke-width="2.7"/>
<path d="M962.1 1427.7 Q961.2 1406.4 952.7 1399.3" fill="none" stroke="#fffce2" stroke-width="2.7"/>
<path d="M1116.5 1466.8 Q1116.9 1479.6 1120.6 1483.8" fill="none" stroke="#fffce2" stroke-width="2.7"/>
<path d="M970.2 1474.5 Q969.7 1482.1 964.9 1484.6" fill="none" stroke="#fffce2" stroke-width="2.7"/>
<path d="M843.0 1429.0 Q843.9 1407.3 852.3 1400.1" fill="none" stroke="#fffce2" stroke-width="2.7"/>
<path d="M1284.8 1389.1 Q1284.0 1367.8 1276.7 1360.7" fill="none" stroke="#fffce2" stroke-width="2.7"/>
<path d="M1247.4 1418.4 Q1246.5 1396.4 1238.5 1389.1" fill="none" stroke="#fffce2" stroke-width="2.7"/>
<path d="M1243.3 1466.8 Q1242.9 1480.2 1239.3 1484.6" fill="none" stroke="#fffce2" stroke-width="2.7"/>
<path d="M1040.1 1086.3 C1038.9 1089.0 1033.6 1097.2 1032.8 1102.6 C1032.0 1108.0 1037.1 1112.9 1035.2 1118.8 C1033.4 1124.7 1024.1 1134.8 1021.8 1137.9" fill="none" stroke="#ad49b6" stroke-width="2.6"/>
<path d="M1054.4 1086.3 C1056.4 1088.7 1064.0 1095.1 1066.5 1100.5 C1069.1 1106.0 1066.7 1112.9 1069.4 1118.8 C1072.1 1124.7 1080.6 1133.1 1082.8 1135.9" fill="none" stroke="#ad49b6" stroke-width="2.6"/>
<path d="M910.1 1190.0 C908.0 1188.3 901.4 1184.5 897.9 1179.8 C894.3 1175.1 891.6 1167.6 888.9 1161.5 C886.2 1155.4 882.8 1146.3 881.6 1143.2" fill="none" stroke="#ad49b6" stroke-width="2.6"/>
<path d="M924.3 1190.0 C926.3 1187.9 933.8 1182.9 936.5 1177.8 C939.2 1172.7 937.5 1165.4 940.5 1159.5 C943.6 1153.6 952.4 1145.3 954.8 1142.4" fill="none" stroke="#ad49b6" stroke-width="2.6"/>
<path d="M933.6 1287.5 C934.1 1290.6 934.3 1299.7 936.5 1305.8 C938.6 1311.9 944.6 1317.5 946.6 1324.1 C948.7 1330.7 948.3 1342.0 948.7 1345.6" fill="none" stroke="#ad49b6" stroke-width="2.6"/>
<path d="M942.6 1287.5 C943.9 1290.6 947.3 1300.7 950.7 1305.8 C954.1 1310.9 960.3 1312.6 962.9 1318.0 C965.5 1323.4 965.6 1334.9 966.2 1338.3" fill="none" stroke="#ad49b6" stroke-width="2.6"/>
<path d="M1162.1 1277.4 C1159.7 1278.4 1151.9 1279.7 1147.8 1283.4 C1143.8 1287.2 1142.8 1296.5 1137.7 1299.7 C1132.6 1302.9 1120.7 1302.1 1117.4 1302.6" fill="none" stroke="#ad49b6" stroke-width="2.6"/>
<path d="M1176.3 1283.4 C1177.0 1286.5 1181.4 1295.3 1180.4 1301.7 C1179.3 1308.2 1171.1 1315.2 1170.2 1322.1 C1169.3 1329.0 1174.3 1339.7 1175.1 1343.2" fill="none" stroke="#ad49b6" stroke-width="2.6"/>
<path d="M1036.1 1398.5 C1037.4 1395.9 1043.2 1389.0 1044.2 1383.0 C1045.2 1377.1 1040.9 1369.1 1042.2 1362.7 C1043.4 1356.3 1049.9 1347.5 1051.5 1344.4" fill="none" stroke="#ad49b6" stroke-width="2.6"/>
<path d="M1048.3 1398.5 C1050.3 1395.9 1058.8 1389.0 1060.4 1383.0 C1062.1 1377.1 1056.5 1368.8 1058.4 1362.7 C1060.3 1356.6 1069.6 1349.2 1071.8 1346.4" fill="none" stroke="#ad49b6" stroke-width="2.6"/>
<path d="M1304.3 1084.3 C1302.6 1086.7 1296.5 1093.4 1294.2 1098.5 C1291.8 1103.6 1291.4 1108.7 1290.1 1114.8 C1288.7 1120.9 1286.7 1131.7 1286.0 1135.1" fill="none" stroke="#ad49b6" stroke-width="2.6"/>
<path d="M1310.4 1086.3 C1310.1 1089.7 1309.7 1100.5 1308.4 1106.6 C1307.0 1112.7 1303.1 1116.8 1302.3 1122.9 C1301.5 1129.0 1303.3 1139.8 1303.5 1143.2" fill="none" stroke="#ad49b6" stroke-width="2.6"/>
<circle cx="970.2" cy="1018.0" r="7.4" fill="url(#gCy)"/>
<circle cx="979.2" cy="1065.2" r="7.4" fill="url(#gCy)"/>
<circle cx="1010.9" cy="1091.6" r="7.4" fill="url(#gCy)"/>
<circle cx="1049.5" cy="1104.6" r="7.4" fill="url(#gCy)"/>
<circle cx="1093.8" cy="1091.6" r="7.4" fill="url(#gCy)"/>
<circle cx="1125.5" cy="1055.8" r="7.4" fill="url(#gCy)"/>
<circle cx="1119.4" cy="1008.3" r="7.4" fill="url(#gCy)"/>
<circle cx="1004.8" cy="988.0" r="7.4" fill="url(#gCy)"/>
<circle cx="854.4" cy="1019.3" r="7.4" fill="url(#gCy)"/>
<circle cx="845.8" cy="1066.0" r="7.4" fill="url(#gCy)"/>
<circle cx="818.6" cy="1092.4" r="7.4" fill="url(#gCy)"/>
<circle cx="1256.4" cy="1008.3" r="7.4" fill="url(#gCy)"/>
<circle cx="1251.5" cy="1055.8" r="7.4" fill="url(#gCy)"/>
<circle cx="1286.8" cy="1091.2" r="7.4" fill="url(#gCy)"/>
<circle cx="918.2" cy="1175.7" r="7.4" fill="url(#gCy)"/>
<circle cx="954.8" cy="1183.9" r="7.4" fill="url(#gCy)"/>
<circle cx="878.8" cy="1192.8" r="7.4" fill="url(#gCy)"/>
<circle cx="844.2" cy="1223.3" r="7.4" fill="url(#gCy)"/>
<circle cx="994.2" cy="1213.1" r="7.4" fill="url(#gCy)"/>
<circle cx="999.5" cy="1261.1" r="7.4" fill="url(#gCy)"/>
<circle cx="853.2" cy="1270.0" r="7.4" fill="url(#gCy)"/>
<circle cx="885.7" cy="1296.9" r="7.4" fill="url(#gCy)"/>
<circle cx="924.3" cy="1309.9" r="7.4" fill="url(#gCy)"/>
<circle cx="967.0" cy="1296.9" r="7.4" fill="url(#gCy)"/>
<circle cx="1167.3" cy="1183.9" r="7.4" fill="url(#gCy)"/>
<circle cx="1207.6" cy="1177.0" r="7.4" fill="url(#gCy)"/>
<circle cx="1246.2" cy="1192.0" r="7.4" fill="url(#gCy)"/>
<circle cx="1130.4" cy="1213.1" r="7.4" fill="url(#gCy)"/>
<circle cx="1279.9" cy="1223.3" r="7.4" fill="url(#gCy)"/>
<circle cx="1125.5" cy="1261.9" r="7.4" fill="url(#gCy)"/>
<circle cx="1271.8" cy="1270.0" r="7.4" fill="url(#gCy)"/>
<circle cx="1160.8" cy="1296.9" r="7.4" fill="url(#gCy)"/>
<circle cx="1202.7" cy="1308.6" r="7.4" fill="url(#gCy)"/>
<circle cx="1238.5" cy="1298.5" r="7.4" fill="url(#gCy)"/>
<circle cx="1034.8" cy="1381.0" r="7.4" fill="url(#gCy)"/>
<circle cx="1072.6" cy="1388.3" r="7.4" fill="url(#gCy)"/>
<circle cx="996.6" cy="1397.3" r="7.4" fill="url(#gCy)"/>
<circle cx="1112.1" cy="1418.4" r="7.4" fill="url(#gCy)"/>
<circle cx="962.1" cy="1427.7" r="7.4" fill="url(#gCy)"/>
<circle cx="1116.5" cy="1466.8" r="7.4" fill="url(#gCy)"/>
<circle cx="970.2" cy="1474.5" r="7.4" fill="url(#gCy)"/>
<circle cx="843.0" cy="1429.0" r="7.4" fill="url(#gCy)"/>
<circle cx="1284.8" cy="1389.1" r="7.4" fill="url(#gCy)"/>
<circle cx="1247.4" cy="1418.4" r="7.4" fill="url(#gCy)"/>
<circle cx="1243.3" cy="1466.8" r="7.4" fill="url(#gCy)"/>
<circle cx="1043.0" cy="1034.3" r="6.6" fill="url(#gYe)"/>
<circle cx="1014.5" cy="1066.0" r="6.6" fill="url(#gYe)"/>
<circle cx="1095.4" cy="1057.1" r="6.6" fill="url(#gYe)"/>
<circle cx="885.7" cy="1228.6" r="6.6" fill="url(#gYe)"/>
<circle cx="951.5" cy="1230.2" r="6.6" fill="url(#gYe)"/>
<circle cx="906.8" cy="1265.2" r="6.6" fill="url(#gYe)"/>
<circle cx="1173.4" cy="1231.8" r="6.6" fill="url(#gYe)"/>
<circle cx="1219.0" cy="1226.5" r="6.6" fill="url(#gYe)"/>
<circle cx="1219.8" cy="1267.6" r="6.6" fill="url(#gYe)"/>
<circle cx="1009.6" cy="1435.1" r="6.6" fill="url(#gYe)"/>
<circle cx="1066.5" cy="1437.9" r="6.6" fill="url(#gYe)"/>
<circle cx="1035.2" cy="1470.4" r="6.6" fill="url(#gYe)"/>
<circle cx="1306.3" cy="1437.9" r="6.6" fill="url(#gYe)"/>
<circle cx="1045.4" cy="1071.7" r="19.1" fill="url(#gBl)"/>
<circle cx="915.8" cy="1205.8" r="19.1" fill="url(#gBl)"/>
<circle cx="936.5" cy="1271.3" r="19.1" fill="url(#gBl)"/>
<circle cx="1177.1" cy="1266.4" r="19.1" fill="url(#gBl)"/>
<circle cx="1040.1" cy="1415.5" r="19.1" fill="url(#gBl)"/>
<circle cx="1315.7" cy="1069.3" r="19.1" fill="url(#gBl)"/>
</g>
<rect x="815.8" y="985.5" width="498.7" height="499.2" rx="76" ry="76" fill="none" stroke="#b9b9b9" stroke-width="3.5"/>
<circle cx="1025.3" cy="798.5" r="25.2" fill="none" stroke="#000" stroke-width="2.6"/>
</g>
<g id="battery">
<defs>
<linearGradient id="gGlassG" x1="0" x2="1"><stop offset="0" stop-color="#a3d3a5"/><stop offset="0.08" stop-color="#b4dcb5"/><stop offset="0.5" stop-color="#bbe0bb"/><stop offset="0.92" stop-color="#b4dcb5"/><stop offset="1" stop-color="#9fcfa1"/></linearGradient>
<linearGradient id="gLiqG" x1="0" x2="1"><stop offset="0" stop-color="#7fdc7c"/><stop offset="0.15" stop-color="#8de98a"/><stop offset="0.85" stop-color="#8de98a"/><stop offset="1" stop-color="#7fdc7c"/></linearGradient>
<linearGradient id="gGlassB" x1="0" x2="1"><stop offset="0" stop-color="#a4b8d0"/><stop offset="0.08" stop-color="#b6c8de"/><stop offset="0.5" stop-color="#bccde2"/><stop offset="0.92" stop-color="#b6c8de"/><stop offset="1" stop-color="#a4b8d0"/></linearGradient>
<linearGradient id="gLiqB" x1="0" x2="1"><stop offset="0" stop-color="#79a8dd"/><stop offset="0.15" stop-color="#8ab8ec"/><stop offset="0.85" stop-color="#8ab8ec"/><stop offset="1" stop-color="#79a8dd"/></linearGradient>
<radialGradient id="gPk" cx="0.42" cy="0.38" r="0.65"><stop offset="0" stop-color="#f3b8f3"/><stop offset="0.6" stop-color="#df94e2"/><stop offset="1" stop-color="#c478c8"/></radialGradient>
<radialGradient id="gGr" cx="0.42" cy="0.38" r="0.65"><stop offset="0" stop-color="#98f090"/><stop offset="0.6" stop-color="#58d058"/><stop offset="1" stop-color="#3fae44"/></radialGradient>
<radialGradient id="gYl" cx="0.42" cy="0.38" r="0.65"><stop offset="0" stop-color="#ffff9c"/><stop offset="0.6" stop-color="#fbf25a"/><stop offset="1" stop-color="#d9cf48"/></radialGradient>
<radialGradient id="gCn" cx="0.42" cy="0.38" r="0.65"><stop offset="0" stop-color="#7fe6ff"/><stop offset="0.6" stop-color="#27c0f0"/><stop offset="1" stop-color="#169ad0"/></radialGradient>
<linearGradient id="gArcL1" x1="0" y1="0" x2="0" y2="1"><stop offset="0" stop-color="#e3a2ea"/><stop offset="0.3" stop-color="#dcb6e2"/><stop offset="0.55" stop-color="#d4f0d4" stop-opacity="0.8"/><stop offset="0.85" stop-color="#84ee84"/><stop offset="1" stop-color="#62e462"/></linearGradient>
<linearGradient id="gArcL2" x1="0" y1="0" x2="0" y2="1"><stop offset="0" stop-color="#f0b6f6"/><stop offset="0.25" stop-color="#ecc0f0"/><stop offset="0.5" stop-color="#b4d8b4" stop-opacity="0.7"/><stop offset="0.8" stop-color="#62c462"/><stop offset="1" stop-color="#4cba4c"/></linearGradient>
<linearGradient id="gArcR1" x1="0" y1="0" x2="0" y2="1"><stop offset="0" stop-color="#eadc50"/><stop offset="0.3" stop-color="#e6de84"/><stop offset="0.55" stop-color="#d8e6f2" stop-opacity="0.8"/><stop offset="0.85" stop-color="#7fe0f8"/><stop offset="1" stop-color="#5cd6f6"/></linearGradient>
<linearGradient id="gArcR2" x1="0" y1="0" x2="0" y2="1"><stop offset="0" stop-color="#fff27a"/><stop offset="0.25" stop-color="#f6ee98"/><stop offset="0.5" stop-color="#c2d4e6" stop-opacity="0.7"/><stop offset="0.8" stop-color="#5cc0d2"/><stop offset="1" stop-color="#46b4c8"/></linearGradient>
</defs>
<path d="M1605 596 V625 A27 27 0 0 0 1632 652 H1803.6 A24 24 0 0 0 1827.6 628 V598" fill="none" stroke="#84da8a" stroke-width="10.6" stroke-linejoin="round"/>
<path d="M1605 596 V625 A27 27 0 0 0 1632 652 H1803.6 A24 24 0 0 0 1827.6 628 V598" fill="none" stroke="#9eeaa0" stroke-width="7.3999999999999995" stroke-linejoin="round" transform="translate(-0.7,-0.7)"/>
<path d="M1605 596 V625 A27 27 0 0 0 1632 652 H1803.6 A24 24 0 0 0 1827.6 628 V598" fill="none" stroke="#b4f4b4" stroke-width="3.5999999999999996" stroke-linejoin="round" transform="translate(-1.5,-1.5)"/>
<path d="M2202.4 612 V649 A27 27 0 0 1 2175.4 676 H2003.3 A26 26 0 0 1 1977.3 650 V612" fill="none" stroke="#86b4e4" stroke-width="11.2" stroke-linejoin="round"/>
<path d="M2202.4 612 V649 A27 27 0 0 1 2175.4 676 H2003.3 A26 26 0 0 1 1977.3 650 V612" fill="none" stroke="#9fc8f0" stroke-width="7.999999999999999" stroke-linejoin="round" transform="translate(-0.7,-0.7)"/>
<path d="M2202.4 612 V649 A27 27 0 0 1 2175.4 676 H2003.3 A26 26 0 0 1 1977.3 650 V612" fill="none" stroke="#b8d8f8" stroke-width="4.199999999999999" stroke-linejoin="round" transform="translate(-1.5,-1.5)"/>
<path d="M1597.7 356 V274 A25 25 0 0 1 1622.7 248.9 H1799 A25 25 0 0 1 1824 274 V306" fill="none" stroke="#84da8a" stroke-width="10.6" stroke-linejoin="round"/>
<path d="M1597.7 356 V274 A25 25 0 0 1 1622.7 248.9 H1799 A25 25 0 0 1 1824 274 V306" fill="none" stroke="#9eeaa0" stroke-width="7.3999999999999995" stroke-linejoin="round" transform="translate(-0.7,-0.7)"/>
<path d="M1597.7 356 V274 A25 25 0 0 1 1622.7 248.9 H1799 A25 25 0 0 1 1824 274 V306" fill="none" stroke="#b4f4b4" stroke-width="3.5999999999999996" stroke-linejoin="round" transform="translate(-1.5,-1.5)"/>
<path d="M1983.4 308 V282 A27 27 0 0 1 2010.4 255.7 H2180 A27 27 0 0 1 2207.3 282.7 V368" fill="none" stroke="#86b4e4" stroke-width="11.6" stroke-linejoin="round"/>
<path d="M1983.4 308 V282 A27 27 0 0 1 2010.4 255.7 H2180 A27 27 0 0 1 2207.3 282.7 V368" fill="none" stroke="#9fc8f0" stroke-width="8.399999999999999" stroke-linejoin="round" transform="translate(-0.7,-0.7)"/>
<path d="M1983.4 308 V282 A27 27 0 0 1 2010.4 255.7 H2180 A27 27 0 0 1 2207.3 282.7 V368" fill="none" stroke="#b8d8f8" stroke-width="4.6" stroke-linejoin="round" transform="translate(-1.5,-1.5)"/>
<path d="M1514.8 374.4 A81.2 17.6 0 0 1 1677.2 374.4 V573.5 A81.2 27.4 0 0 1 1514.8 573.5 Z" fill="url(#gGlassG)"/>
<ellipse cx="1596" cy="374.4" rx="81.2" ry="17.6" fill="#b3dbb4"/>
<path d="M1522 442.9 A74 15.5 0 0 1 1670 442.9 V571.5 A74 24.4 0 0 1 1522 571.5 Z" fill="url(#gLiqG)"/>
<ellipse cx="1596" cy="442.9" rx="74" ry="15.5" fill="#90ea8c"/>
<path d="M2124.7999999999997 382.8 A83.3 17.5 0 0 1 2291.4 382.8 V589.5 A83.3 29 0 0 1 2124.7999999999997 589.5 Z" fill="url(#gGlassB)"/>
<ellipse cx="2208.1" cy="382.8" rx="83.3" ry="17.5" fill="#b5c7dd"/>
<path d="M2132.6 459.8 A75.5 18.5 0 0 1 2283.6 459.8 V587.5 A75.5 26 0 0 1 2132.6 587.5 Z" fill="url(#gLiqB)"/>
<ellipse cx="2208.1" cy="459.8" rx="75.5" ry="18.5" fill="#8dbaee"/>
<path d="M1577.95 356.5 L1582.81 352.0 H1613.5900000000001 L1618.45 356.5 V364.0 L1613.5900000000001 367.0 H1582.81 L1577.95 364.0 Z" fill="#4fc653"/>
<path d="M1577.95 356.5 L1582.81 352.0 H1613.5900000000001 L1618.45 356.5 L1613.5900000000001 360.25 H1582.81 Z" fill="#6adb6a"/>
<path d="M2185.9 369.3 L2190.916 364.5 H2222.684 L2227.7000000000003 369.3 V377.3 L2222.684 380.5 H2190.916 L2185.9 377.3 Z" fill="#3f8fd2"/>
<path d="M2185.9 369.3 L2190.916 364.5 H2222.684 L2227.7000000000003 369.3 L2222.684 373.3 H2190.916 Z" fill="#5aa4e0"/>
<path d="M1597.7 356 V320" fill="none" stroke="#84da8a" stroke-width="10.6" stroke-linejoin="round"/>
<path d="M1597.7 356 V320" fill="none" stroke="#9eeaa0" stroke-width="7.3999999999999995" stroke-linejoin="round" transform="translate(-0.7,-0.7)"/>
<path d="M1597.7 356 V320" fill="none" stroke="#b4f4b4" stroke-width="3.5999999999999996" stroke-linejoin="round" transform="translate(-1.5,-1.5)"/>
<path d="M2207.3 368 V330" fill="none" stroke="#86b4e4" stroke-width="11.6" stroke-linejoin="round"/>
<path d="M2207.3 368 V330" fill="none" stroke="#9fc8f0" stroke-width="8.399999999999999" stroke-linejoin="round" transform="translate(-0.7,-0.7)"/>
<path d="M2207.3 368 V330" fill="none" stroke="#b8d8f8" stroke-width="4.6" stroke-linejoin="round" transform="translate(-1.5,-1.5)"/>
<g font-size="30.3" text-anchor="middle"><text x="1604" y="525.5">Anolyte</text><text x="1604" y="561">Tank</text><text x="2204" y="540">Catholyte</text><text x="2204" y="576.5">Tank</text></g>
<g fill="none" stroke="#000" stroke-width="3.6"><path d="M1763.4 306 V199.7 H1793"/><path d="M2070 311 V199.7 H2041"/></g>
<path d="M1803.5 199.7 L1792 194.6 V204.8 Z M2031 199.7 L2042.5 194.6 V204.8 Z" fill="#000"/>
<polygon points="1709.2,322.9 1776.2,293.4 1794.6,294.1 1735.5,315.1" fill="#bdbdbd" stroke="#bdbdbd" stroke-width="3" stroke-linejoin="round"/>
<polygon points="1709.2,322.9 1735.5,315.1 1751.5,612.7 1729.4,607.3" fill="#a9a9a9" stroke="#a9a9a9" stroke-width="1" stroke-linejoin="round"/>
<polygon points="1735.5,315.1 1794.6,294.1 1921,297.1 1880.8,326.6 1883.7,625.7 1751.5,612.7" fill="#a6d9a6"/>
<polygon points="1735.5,315.1 1794.6,294.1 1808,548 1751.5,612.7" fill="#9cd49d" opacity="0.8"/>
<polygon points="1919,297.1 1928.3,297.6 1895.6,325.4 1896.3,626.5 1883.7,625.7 1880.8,326.6" fill="#ecedba"/>
<polygon points="1928.3,297.6 2056.8,300.8 2051.4,335.2 2035.9,639.3 1896.3,626.5 1895.6,325.4" fill="#aac4e0"/>
<path d="M2056.8 300.8 L2079 302.8 Q2084 303.5 2084 308 L2083.9 333.5 L2051.4 335.2 Z" fill="#b9b9b9"/>
<polygon points="2051.4,335.2 2083.9,333.5 2065.4,639.3 2035.9,639.3" fill="#a7a7a7"/>
<g fill="none" stroke="#000" stroke-width="3.6"><path d="M1763.4 306 V240"/><path d="M2070 311 V240"/></g>
<path d="M1823.3 598 V626 h8.6 V598 z" fill="#93dc97"/>
<path d="M1973 612 V636 h8.8 V612 z" fill="#8fb6e6"/>
<path d="M1813.5 588.5 l4 -3.5 h20 l4 3.5 v6 l-4 3.5 h-20 l-4 -3.5 z" fill="#8ed591"/><ellipse cx="1827.5" cy="589" rx="9" ry="2.6" fill="#82c986"/>
<path d="M1962.5 602.5 l4 -3.5 h20 l4 3.5 v6 l-4 3.5 h-20 l-4 -3.5 z" fill="#86b0e0"/><ellipse cx="1976.5" cy="603" rx="9" ry="2.6" fill="#7ba6d8"/>
<path d="M1801.95 307.5 L1807.41 302.55 H1841.99 L1847.45 307.5 V315.75 L1841.99 319.05 H1807.41 L1801.95 315.75 Z" fill="#4cc452"/>
<path d="M1801.95 307.5 L1807.41 302.55 H1841.99 L1847.45 307.5 L1841.99 311.625 H1807.41 Z" fill="#66d966"/>
<path d="M1964.2 309.59999999999997 L1969.1200000000001 304.2 H2000.28 L2005.2 309.59999999999997 V318.59999999999997 L2000.28 322.2 H1969.1200000000001 L1964.2 318.59999999999997 Z" fill="#3f8fd2"/>
<path d="M1964.2 309.59999999999997 L1969.1200000000001 304.2 H2000.28 L2005.2 309.59999999999997 L2000.28 314.09999999999997 H1969.1200000000001 Z" fill="#56a0de"/>
<path d="M1824 306 V275" fill="none" stroke="#84da8a" stroke-width="10.6" stroke-linejoin="round"/>
<path d="M1824 306 V275" fill="none" stroke="#9eeaa0" stroke-width="7.3999999999999995" stroke-linejoin="round" transform="translate(-0.7,-0.7)"/>
<path d="M1824 306 V275" fill="none" stroke="#b4f4b4" stroke-width="3.5999999999999996" stroke-linejoin="round" transform="translate(-1.5,-1.5)"/>
<path d="M1983.4 308 V285" fill="none" stroke="#86b4e4" stroke-width="11.6" stroke-linejoin="round"/>
<path d="M1983.4 308 V285" fill="none" stroke="#9fc8f0" stroke-width="8.399999999999999" stroke-linejoin="round" transform="translate(-0.7,-0.7)"/>
<path d="M1983.4 308 V285" fill="none" stroke="#b8d8f8" stroke-width="4.6" stroke-linejoin="round" transform="translate(-1.5,-1.5)"/>
<text transform="translate(1735.5 389.5) rotate(-86.6)" text-anchor="middle" font-size="25">Electrode</text>
<text transform="translate(2071.5 401.5) rotate(-93.2)" text-anchor="middle" font-size="25">Electrode</text>
<text x="1845.5" y="355" font-size="29.5">H<tspan font-size="20" dy="-11" dx="1.5">+</tspan></text>
<g stroke="#000" stroke-width="2" stroke-dasharray="6.5 3.2" fill="none"><path d="M1880.8 362.8 H1843"/><path d="M1909.8 362.8 H1949"/></g>
<path d="M1836 362.8 l8 -3.8 v7.6 z M1955.5 362.8 l-8 -3.8 v7.6 z" fill="#000"/>
<g font-size="30">
<text x="1771.5" y="420.5">V<tspan font-size="20" dy="-11" dx="0.5">2+</tspan></text>
<text x="1769" y="582.8">V<tspan font-size="20" dy="-11" dx="0.5">3+</tspan></text>
<text x="1980.5" y="411.8">VO<tspan font-size="20" dy="8" dx="1">2</tspan><tspan font-size="20" dy="-19" dx="1">+</tspan></text>
<text x="1967" y="588">VO<tspan font-size="20" dy="-11" dx="1">2+</tspan></text>
</g>
<defs><radialGradient id="hgPk"><stop offset="0.6" stop-color="#f0c8f0" stop-opacity="0.75"/><stop offset="0.85" stop-color="#f0c8f0" stop-opacity="0.45"/><stop offset="1" stop-color="#f0c8f0" stop-opacity="0"/></radialGradient></defs>
<circle cx="1823.7" cy="435.4" r="20.5" fill="url(#hgPk)"/>
<circle cx="1823.7" cy="435.4" r="14.2" fill="url(#gPk)"/>
<defs><radialGradient id="hgGr"><stop offset="0.6" stop-color="#8ee88e" stop-opacity="0.75"/><stop offset="0.85" stop-color="#8ee88e" stop-opacity="0.45"/><stop offset="1" stop-color="#8ee88e" stop-opacity="0"/></radialGradient></defs>
<circle cx="1820" cy="535.9" r="20.5" fill="url(#hgGr)"/>
<circle cx="1820" cy="535.9" r="14.2" fill="url(#gGr)"/>
<defs><radialGradient id="hgYl"><stop offset="0.6" stop-color="#f4f0a0" stop-opacity="0.75"/><stop offset="0.85" stop-color="#f4f0a0" stop-opacity="0.45"/><stop offset="1" stop-color="#f4f0a0" stop-opacity="0"/></radialGradient></defs>
<circle cx="1974.3" cy="438.1" r="20.5" fill="url(#hgYl)"/>
<circle cx="1974.3" cy="438.1" r="14.2" fill="url(#gYl)"/>
<defs><radialGradient id="hgCn"><stop offset="0.6" stop-color="#8fe0fa" stop-opacity="0.75"/><stop offset="0.85" stop-color="#8fe0fa" stop-opacity="0.45"/><stop offset="1" stop-color="#8fe0fa" stop-opacity="0"/></radialGradient></defs>
<circle cx="1972.6" cy="540.8" r="20.5" fill="url(#hgCn)"/>
<circle cx="1972.6" cy="540.8" r="14.2" fill="url(#gCn)"/>
<polygon points="1793.6,446.0 1791.5,447.8 1789.6,449.6 1787.7,451.5 1786.0,453.6 1784.3,455.7 1782.8,457.8 1781.4,460.1 1780.1,462.4 1778.9,464.7 1777.9,467.1 1777.0,469.6 1776.2,472.0 1775.5,474.5 1774.9,477.1 1774.5,479.6 1774.2,482.2 1774.0,484.8 1773.8,487.3 1773.8,489.9 1774.0,492.5 1774.2,495.1 1774.6,497.7 1775.1,500.2 1775.8,502.7 1776.6,505.2 1777.5,507.7 1778.6,510.1 1779.7,512.5 1781.0,514.8 1782.5,517.0 1779.5,519.2 1790.0,522.7 1788.1,512.7 1785.2,514.9 1783.6,513.0 1782.2,511.0 1780.9,508.9 1779.7,506.7 1778.6,504.4 1777.6,502.1 1776.8,499.8 1776.1,497.3 1775.6,494.9 1775.2,492.4 1774.9,489.9 1774.8,487.3 1774.8,484.8 1775.0,482.3 1775.4,479.8 1775.9,477.3 1776.6,474.9 1777.5,472.5 1778.5,470.2 1779.6,467.9 1780.8,465.7 1782.2,463.6 1783.7,461.6 1785.2,459.7 1786.9,457.9 1788.7,456.2 1790.6,454.6 1792.6,453.1 1794.6,451.8 1796.7,450.6" fill="url(#gArcL1)"/>
<polygon points="1850.3,528.5 1852.5,526.6 1854.5,524.6 1856.4,522.6 1858.2,520.4 1859.9,518.1 1861.4,515.8 1862.8,513.4 1864.1,510.9 1865.2,508.4 1866.2,505.8 1867.1,503.2 1867.8,500.6 1868.4,497.9 1868.8,495.2 1869.1,492.5 1869.3,489.8 1869.3,487.1 1869.3,484.3 1869.1,481.6 1868.7,478.9 1868.2,476.2 1867.6,473.6 1866.8,470.9 1865.9,468.3 1864.8,465.8 1863.6,463.3 1862.3,460.9 1860.8,458.5 1859.2,456.3 1857.4,454.1 1860.1,451.6 1849.4,449.2 1852.2,458.9 1854.9,456.4 1856.8,458.3 1858.5,460.2 1860.1,462.3 1861.6,464.5 1862.9,466.8 1864.1,469.1 1865.2,471.5 1866.1,474.0 1866.9,476.5 1867.5,479.1 1868.0,481.7 1868.3,484.4 1868.5,487.1 1868.4,489.7 1868.2,492.4 1867.8,495.0 1867.2,497.6 1866.4,500.2 1865.5,502.7 1864.5,505.1 1863.3,507.5 1862.0,509.7 1860.5,511.9 1858.9,514.0 1857.2,516.0 1855.4,517.8 1853.4,519.6 1851.4,521.2 1849.3,522.7 1847.2,524.0" fill="url(#gArcL2)"/>
<polygon points="1945.0,449.0 1942.9,450.8 1941.0,452.6 1939.1,454.5 1937.4,456.6 1935.7,458.7 1934.2,460.8 1932.8,463.1 1931.5,465.4 1930.3,467.7 1929.3,470.1 1928.4,472.6 1927.6,475.0 1926.9,477.5 1926.3,480.1 1925.9,482.6 1925.6,485.2 1925.4,487.8 1925.2,490.3 1925.2,492.9 1925.4,495.5 1925.6,498.1 1926.0,500.7 1926.5,503.2 1927.2,505.7 1928.0,508.2 1928.9,510.7 1930.0,513.1 1931.1,515.5 1932.4,517.8 1933.9,520.0 1930.9,522.2 1941.4,525.7 1939.5,515.7 1936.6,517.9 1935.0,516.0 1933.6,514.0 1932.3,511.9 1931.1,509.7 1930.0,507.4 1929.0,505.1 1928.2,502.8 1927.5,500.3 1927.0,497.9 1926.6,495.4 1926.3,492.9 1926.2,490.3 1926.2,487.8 1926.4,485.3 1926.8,482.8 1927.3,480.3 1928.0,477.9 1928.9,475.5 1929.9,473.2 1931.0,470.9 1932.2,468.7 1933.6,466.6 1935.1,464.6 1936.6,462.7 1938.3,460.9 1940.1,459.2 1942.0,457.6 1944.0,456.1 1946.0,454.8 1948.1,453.6" fill="url(#gArcR1)"/>
<polygon points="2001.7,531.5 2003.9,529.6 2005.9,527.6 2007.8,525.6 2009.6,523.4 2011.3,521.1 2012.8,518.8 2014.2,516.4 2015.5,513.9 2016.6,511.4 2017.6,508.8 2018.5,506.2 2019.2,503.6 2019.8,500.9 2020.2,498.2 2020.5,495.5 2020.7,492.8 2020.7,490.1 2020.7,487.3 2020.5,484.6 2020.1,481.9 2019.6,479.2 2019.0,476.6 2018.2,473.9 2017.3,471.3 2016.2,468.8 2015.0,466.3 2013.7,463.9 2012.2,461.5 2010.6,459.3 2008.8,457.1 2011.5,454.6 2000.8,452.2 2003.6,461.9 2006.3,459.4 2008.2,461.3 2009.9,463.2 2011.5,465.3 2013.0,467.5 2014.3,469.8 2015.5,472.1 2016.6,474.5 2017.5,477.0 2018.3,479.5 2018.9,482.1 2019.4,484.7 2019.7,487.4 2019.9,490.1 2019.8,492.7 2019.6,495.4 2019.2,498.0 2018.6,500.6 2017.8,503.2 2016.9,505.7 2015.9,508.1 2014.7,510.5 2013.4,512.7 2011.9,514.9 2010.3,517.0 2008.6,519.0 2006.8,520.8 2004.8,522.6 2002.8,524.2 2000.7,525.7 1998.6,527.0" fill="url(#gArcR2)"/>
<circle cx="1708.2" cy="651.8" r="19.5" fill="#80e680"/>
<path d="M1708.2 651.8 L1709.6 632.3 A19.5 19.5 0 0 1 1712.3 632.7 Z" fill="#7f8f80"/>
<path d="M1708.2 651.8 L1726.5 645.1 A19.5 19.5 0 0 1 1727.3 647.7 Z" fill="#7f8f80"/>
<path d="M1708.2 651.8 L1723.8 663.5 A19.5 19.5 0 0 1 1722.0 665.6 Z" fill="#7f8f80"/>
<path d="M1708.2 651.8 L1706.2 671.2 A19.5 19.5 0 0 1 1703.5 670.7 Z" fill="#7f8f80"/>
<path d="M1708.2 651.8 L1690.1 659.1 A19.5 19.5 0 0 1 1689.3 656.5 Z" fill="#7f8f80"/>
<path d="M1708.2 651.8 L1691.7 641.5 A19.5 19.5 0 0 1 1693.3 639.3 Z" fill="#7f8f80"/>
<path d="M1708.2 651.8 L1706.5 632.4" stroke="#000" stroke-width="3"/>
<path d="M1708.2 651.8 L1724.2 640.6" stroke="#000" stroke-width="3"/>
<path d="M1708.2 651.8 L1725.9 660.0" stroke="#000" stroke-width="3"/>
<path d="M1708.2 651.8 L1709.9 671.2" stroke="#000" stroke-width="3"/>
<path d="M1708.2 651.8 L1691.3 661.5" stroke="#000" stroke-width="3"/>
<path d="M1708.2 651.8 L1690.5 643.6" stroke="#000" stroke-width="3"/>
<circle cx="1708.2" cy="651.8" r="19.5" fill="none" stroke="#000" stroke-width="1.8"/>
<circle cx="1708.2" cy="651.8" r="1.1" fill="#e8f4e8"/>
<circle cx="2094.3" cy="669.6" r="19.5" fill="#90bcee"/>
<path d="M2094.3 669.6 L2095.7 650.1 A19.5 19.5 0 0 1 2098.4 650.5 Z" fill="#7b8590"/>
<path d="M2094.3 669.6 L2112.6 662.9 A19.5 19.5 0 0 1 2113.4 665.5 Z" fill="#7b8590"/>
<path d="M2094.3 669.6 L2109.9 681.3 A19.5 19.5 0 0 1 2108.1 683.4 Z" fill="#7b8590"/>
<path d="M2094.3 669.6 L2092.3 689.0 A19.5 19.5 0 0 1 2089.6 688.5 Z" fill="#7b8590"/>
<path d="M2094.3 669.6 L2076.2 676.9 A19.5 19.5 0 0 1 2075.4 674.3 Z" fill="#7b8590"/>
<path d="M2094.3 669.6 L2077.8 659.3 A19.5 19.5 0 0 1 2079.4 657.1 Z" fill="#7b8590"/>
<path d="M2094.3 669.6 L2092.6 650.2" stroke="#000" stroke-width="3"/>
<path d="M2094.3 669.6 L2110.3 658.4" stroke="#000" stroke-width="3"/>
<path d="M2094.3 669.6 L2112.0 677.8" stroke="#000" stroke-width="3"/>
<path d="M2094.3 669.6 L2096.0 689.0" stroke="#000" stroke-width="3"/>
<path d="M2094.3 669.6 L2077.4 679.4" stroke="#000" stroke-width="3"/>
<path d="M2094.3 669.6 L2076.6 661.4" stroke="#000" stroke-width="3"/>
<circle cx="2094.3" cy="669.6" r="19.5" fill="none" stroke="#000" stroke-width="1.8"/>
<circle cx="2094.3" cy="669.6" r="1.1" fill="#e8f4e8"/>
<g font-size="21"><text x="1675.5" y="626.6">Pump</text><text x="2074" y="643.6">Pump</text></g>
<path d="M1671 248.6 H1637.0" stroke="#000" stroke-width="2.8" fill="none"/>
<path d="M1627 248.6 l12.5 -4 v8 z" fill="#000"/>
<path d="M2132 254.8 H2167.2" stroke="#000" stroke-width="3.2" fill="none"/>
<path d="M2176 254.8 l-11 -4.5 v9.0 z" fill="#000"/>
<path d="M1754 652.6 H1790.8" stroke="#000" stroke-width="2.2" fill="none"/>
<path d="M1798 652.6 l-9 -3.5 v7.0 z" fill="#000"/>
<path d="M2040 667 H2005.0" stroke="#000" stroke-width="2.8" fill="none"/>
<path d="M1997 667 l10 -4 v8 z" fill="#000"/>
<path d="M1888.2 627 H1893.4 V756 H1888.2 Z" fill="#2f5597"/><path d="M1881.6 754 H1900 L1890.8 773 Z" fill="#2f5597"/>
</g>
<g id="icons">
<polygon points="1897.4,235.7 1911.9,219.3 1896.4,219.3" fill="#8d8d8d"/>
<polygon points="1837.9,165.6 1893.3,165.6 1897.4,235.7 1833.3,235.7" fill="#9d9d9d" stroke="#5c5c5c" stroke-width="1"/>
<path d="M1850.9 166.5 L1848.4 234.8 M1865.0 166.5 L1864.8 234.8 M1879.1 166.5 L1881.1 234.8 M1837.8 180.0 L1893.2 180.0 M1837.0 193.6 L1894.0 193.6 M1836.1 207.3 L1894.8 207.3 M1835.1 222.4 L1895.7 222.4 " stroke="#fff" stroke-width="2.1" fill="none"/>
<path d="M1960.3 201.9 L1976.3 191.6 m0 0 l3.2 -3 m-3.2 3 l4.5 1.6 m-4.5 -1.6 l-1 -4" stroke="#a8a8a8" stroke-width="1.1" fill="none"/>
<path d="M1957.8999999999999 160.5 L1956.8999999999999 202.9 H1960.7 L1959.7 160.5 Z" fill="#4a4a4a"/>
<path d="M1959.0 160.5 L1959.1 202.9 H1960.7 L1959.7 160.5 Z" fill="#9a9a9a"/>
<path d="M1959.8 159.6 L1943.6 143.3 L1957.8 161.4 Z" fill="#111"/>
<path d="M1959.1 161.8 L1981.4 155.8 L1958.5 159.2 Z" fill="#111"/>
<path d="M1957.6 160.1 L1951.5 182.6 L1960.0 160.9 Z" fill="#111"/>
<circle cx="1958.8" cy="160.5" r="1.5" fill="#111"/>
<path d="M1941.9 237.5 L1958.3 227.2 m0 0 l3.2 -3 m-3.2 3 l4.5 1.6 m-4.5 -1.6 l-1 -4" stroke="#a8a8a8" stroke-width="1.1" fill="none"/>
<path d="M1939.3 195.6 L1938.5 238.5 H1942.3000000000002 L1941.1000000000001 195.6 Z" fill="#4a4a4a"/>
<path d="M1940.4 195.6 L1940.7 238.5 H1942.3000000000002 L1941.1000000000001 195.6 Z" fill="#9a9a9a"/>
<path d="M1941.2 194.7 L1925.3 178.6 L1939.2 196.5 Z" fill="#111"/>
<path d="M1940.4 196.9 L1962.8 191.6 L1940.0 194.3 Z" fill="#111"/>
<path d="M1939.0 195.2 L1933.4 217.6 L1941.4 196.0 Z" fill="#111"/>
<circle cx="1940.2" cy="195.6" r="1.5" fill="#111"/>
<path d="M1991.2 237.5 L2007.4 227.2 m0 0 l3.2 -3 m-3.2 3 l4.5 1.6 m-4.5 -1.6 l-1 -4" stroke="#a8a8a8" stroke-width="1.1" fill="none"/>
<path d="M1988.3999999999999 195.6 L1987.8 238.5 H1991.6000000000001 L1990.2 195.6 Z" fill="#4a4a4a"/>
<path d="M1989.5 195.6 L1990.0 238.5 H1991.6000000000001 L1990.2 195.6 Z" fill="#9a9a9a"/>
<path d="M1990.3 194.7 L1974.7 178.8 L1988.3 196.5 Z" fill="#111"/>
<path d="M1989.5 196.9 L2012.5 191.6 L1989.1 194.3 Z" fill="#111"/>
<path d="M1988.1 195.2 L1982.2 218.2 L1990.5 196.0 Z" fill="#111"/>
<circle cx="1989.3" cy="195.6" r="1.5" fill="#111"/>
</g>
<g id="fuelcell">
<defs>
<radialGradient id="gH2" cx="0.45" cy="0.35" r="0.7"><stop offset="0" stop-color="#9190d0"/><stop offset="0.6" stop-color="#7471b8"/><stop offset="1" stop-color="#6a67a8"/></radialGradient>
<radialGradient id="gHp" cx="0.45" cy="0.35" r="0.7"><stop offset="0" stop-color="#a6bede"/><stop offset="0.6" stop-color="#88a2c8"/><stop offset="1" stop-color="#7b93b6"/></radialGradient>
<radialGradient id="gAir" cx="0.45" cy="0.35" r="0.7"><stop offset="0" stop-color="#90d2b0"/><stop offset="0.6" stop-color="#68b492"/><stop offset="1" stop-color="#5aa484"/></radialGradient>
<linearGradient id="gUp" x1="0" x2="0" y1="0" y2="1"><stop offset="0" stop-color="#2f5597"/><stop offset="0.5" stop-color="#2f5597"/><stop offset="0.62" stop-color="#7f95bf"/><stop offset="1" stop-color="#8fa3c8"/></linearGradient>
<radialGradient id="gBulb" cx="0.4" cy="0.35" r="0.7"><stop offset="0" stop-color="#eefaff"/><stop offset="0.7" stop-color="#c4e6f6"/><stop offset="1" stop-color="#a8d4ea"/></radialGradient>
</defs>
<polygon points="1577.8,1080.0 1719.1,984.1 2187.0,1009.9 2128.3,1494.8 1611.1,1434.2" fill="#dedede" stroke="#dedede" stroke-width="0.7" stroke-linejoin="round"/>
<polygon points="1577.8,1080.0 1719.1,984.1 2187.0,1009.9 2170.0,1119.7" fill="#e5e5e5" stroke="#e5e5e5" stroke-width="0.7" stroke-linejoin="round"/>
<polygon points="2170.0,1119.7 2187.0,1009.9 2128.3,1494.8" fill="#e2e2e2" stroke="#e2e2e2" stroke-width="0.7" stroke-linejoin="round"/>
<defs><clipPath id="cTopF"><polygon points="1577.8,1080.0 1719.1,984.1 2187.0,1009.9 2170.0,1119.7"/></clipPath><filter id="fLight"><feComponentTransfer><feFuncR type="linear" slope="1.07" intercept="0.015"/><feFuncG type="linear" slope="1.07" intercept="0.015"/><feFuncB type="linear" slope="1.07" intercept="0.015"/></feComponentTransfer></filter></defs>
<rect x="1933.2" y="896" width="6.2" height="176.4000000000001" fill="url(#gUp)"/>
<path d="M1925.6 901.5 H1947 L1936.3 879.5 Z" fill="#2f5597"/>
<polygon points="1749.4,957.2 1757.8,953.4 2143.8,969.7 2145.0,981.1 2143.5,1013.7 2131.0,1013.7 2131.7,980.3 1761.9,965.9 1761.2,994.7 1749.4,994.7" fill="#151515" stroke="#151515" stroke-width="0.7" stroke-linejoin="round"/>
<polygon points="1749.4,994.7 1761.2,994.7 1761.2,1026.9 1749.4,1025.0" fill="#7a7a7a" stroke="#7a7a7a" stroke-width="0.7" stroke-linejoin="round"/>
<polygon points="2131.0,1013.7 2143.5,1013.7 2139.7,1051.5 2127.9,1050.8" fill="#7a7a7a" stroke="#7a7a7a" stroke-width="0.7" stroke-linejoin="round"/>
<path d="M2015.6 932.2 a21 21 0 1 1 42 0 q0 10 -9 22 l-2 10 h-20 l-2 -10 q-9 -12 -9 -22 z" fill="url(#gBulb)"/>
<rect x="2028.6" y="963.2" width="16" height="11" rx="2" fill="#c9c9c9"/><path d="M2028.6 966.2 h16 M2028.6 969.7 h16" stroke="#999" stroke-width="1"/>
<path d="M2031.6 962.2 l-4 -22 l4 4 l3 -5 l3 5 l4 -5 l3 5 l-4 18" fill="none" stroke="#333" stroke-width="0.7"/>
<g id="plates">
<polygon points="1689.6,1125.8 1799.4,1028.8 1802.5,1278.9 1706.2,1403.5" fill="#83719e" stroke="#83719e" stroke-width="0.7" stroke-linejoin="round"/>
<polygon points="1612.3,1116.7 1737.3,1022.4 1799.4,1027.3 1689.6,1125.8" fill="#8f7dad" stroke="#8f7dad" stroke-width="0.7" stroke-linejoin="round"/>
<polygon points="1612.3,1116.7 1689.6,1125.8 1706.2,1403.5 1636.2,1396.3" fill="#8d7bab" stroke="#8d7bab" stroke-width="0.7" stroke-linejoin="round"/>
<polygon points="1753.6,1128.1 1844.9,1042.1 1846.8,1286.5 1767.6,1373.6" fill="#7b9fa6" stroke="#7b9fa6" stroke-width="0.7" stroke-linejoin="round"/>
<polygon points="1716.9,1124.3 1814.6,1039.8 1844.9,1042.1 1753.6,1128.1" fill="#82adb4" stroke="#82adb4" stroke-width="0.7" stroke-linejoin="round"/>
<polygon points="1716.9,1124.3 1753.6,1128.1 1767.6,1373.6 1730.9,1367.2" fill="#7fadb5" stroke="#7fadb5" stroke-width="0.7" stroke-linejoin="round"/>
<polygon points="1821.0,1164.1 1877.9,1099.7 1890.0,1101.2 1890.4,1273.2 1837.3,1336.1 1824.5,1334.6" fill="#6e6e6e" stroke="#6e6e6e" stroke-width="0.7" stroke-linejoin="round"/>
<polygon points="1883.6,1153.8 1946.1,1073.9 1946.8,1288.3 1890.0,1359.2" fill="#aea586" stroke="#aea586" stroke-width="0.7" stroke-linejoin="round"/>
<polygon points="1860.4,1152.0 1927.9,1072.4 1946.1,1073.9 1883.6,1153.8" fill="#c8bc92" stroke="#c8bc92" stroke-width="0.7" stroke-linejoin="round"/>
<polygon points="1860.4,1152.0 1883.6,1153.8 1890.0,1359.2 1866.9,1355.8" fill="#c3b78f" stroke="#c3b78f" stroke-width="0.7" stroke-linejoin="round"/>
<polygon points="1915.4,1165.2 1967.3,1100.0 1979.8,1101.6 1977.5,1273.2 1918.0,1322.4" fill="#6c6c6c" stroke="#6c6c6c" stroke-width="0.7" stroke-linejoin="round"/>
<polygon points="2011.6,1145.5 2066.9,1059.9 2068.5,1278.9 2012.8,1402.0" fill="#7a9ea5" stroke="#7a9ea5" stroke-width="0.7" stroke-linejoin="round"/>
<polygon points="1971.1,1149.3 2033.6,1057.2 2066.9,1059.9 2011.6,1145.5" fill="#80aab1" stroke="#80aab1" stroke-width="0.7" stroke-linejoin="round"/>
<polygon points="1971.1,1149.3 2011.6,1145.5 2012.8,1402.0 1972.2,1399.4" fill="#7da2a9" stroke="#7da2a9" stroke-width="0.7" stroke-linejoin="round"/>
<polygon points="2120.0,1127.3 2162.4,1051.5 2160.5,1354.6 2107.5,1451.3" fill="#82709d" stroke="#82709d" stroke-width="0.7" stroke-linejoin="round"/>
<polygon points="2029.8,1147.0 2092.3,1047.8 2162.4,1051.5 2120.0,1127.3" fill="#8e7cac" stroke="#8e7cac" stroke-width="0.7" stroke-linejoin="round"/>
<polygon points="2029.8,1147.0 2120.0,1127.3 2107.5,1451.3 2029.8,1443.7" fill="#8d7bab" stroke="#8d7bab" stroke-width="0.7" stroke-linejoin="round"/>
</g>
<g clip-path="url(#cTopF)"><use href="#plates" filter="url(#fLight)"/></g>
<path d="M1759.2 1179.5 L1793.4 1152.0 L1803.4 1184.2 Z" fill="#93a9c8" opacity="0.9"/>
<circle cx="1799.4" cy="1167.1" r="20.1" fill="url(#gH2)"/>
<path d="M1707.3 1236.3 L1741.5 1208.8 L1751.5 1241.0 Z" fill="#93a9c8" opacity="0.9"/>
<circle cx="1747.5" cy="1223.9" r="20.1" fill="url(#gH2)"/>
<path d="M1754.7 1287.5 L1788.9 1260.0 L1798.9 1292.2 Z" fill="#93a9c8" opacity="0.9"/>
<circle cx="1794.9" cy="1275.1" r="20.1" fill="url(#gH2)"/>
<path d="M1709.2 1338.6 L1743.4 1311.1 L1753.4 1343.3 Z" fill="#93a9c8" opacity="0.9"/>
<circle cx="1749.4" cy="1326.2" r="20.1" fill="url(#gH2)"/>
<path d="M1832.0 1204.4 L1861.7 1180.5 L1870.4 1208.4 Z" fill="#93a9c8" opacity="0.9"/>
<circle cx="1866.9" cy="1193.6" r="17.4" fill="url(#gHp)"/>
<path d="M1873.7 1259.4 L1903.4 1235.5 L1912.1 1263.4 Z" fill="#93a9c8" opacity="0.9"/>
<circle cx="1908.6" cy="1248.6" r="17.4" fill="url(#gHp)"/>
<path d="M1818.7 1293.5 L1848.4 1269.6 L1857.1 1297.5 Z" fill="#93a9c8" opacity="0.9"/>
<circle cx="1853.6" cy="1282.7" r="17.4" fill="url(#gHp)"/>
<path d="M1993.8 1221.7 L1958.4 1196.3 L1947.9 1226.5 Z" fill="#93a9c8" opacity="0.9"/>
<circle cx="1952.1" cy="1208.8" r="20.8" fill="url(#gAir)"/>
<path d="M2003.3 1303.1 L1967.9 1277.7 L1957.4 1307.9 Z" fill="#93a9c8" opacity="0.9"/>
<circle cx="1961.6" cy="1290.2" r="20.8" fill="url(#gAir)"/>
<path d="M1967.3 1346.7 L1931.9 1321.3 L1921.4 1351.5 Z" fill="#93a9c8" opacity="0.9"/>
<circle cx="1925.6" cy="1333.8" r="20.8" fill="url(#gAir)"/>
<g font-size="31" fill="#2f2f2f">
<text x="1782.5" y="1178.5">H<tspan font-size="21" dy="7.5">2</tspan></text>
<text x="1727.6" y="1239.1">H<tspan font-size="21" dy="7.5">2</tspan></text>
<text x="1775.7" y="1288.3">H<tspan font-size="21" dy="7.5">2</tspan></text>
<text x="1731.4" y="1341.4">H<tspan font-size="21" dy="7.5">2</tspan></text>
<text x="1851.5" y="1208.8">H<tspan font-size="19" dy="-12">+</tspan></text>
<text x="1892.4" y="1265.6">H<tspan font-size="19" dy="-12">+</tspan></text>
<text x="1838.2" y="1298.6">H<tspan font-size="19" dy="-12">+</tspan></text>
<text x="1927.3" y="1221.3">Air</text>
<text x="1937.9" y="1303.5">Air</text>
<text x="1901.1" y="1347.1">Air</text>
</g>
</g>
</svg>
</body></html>
